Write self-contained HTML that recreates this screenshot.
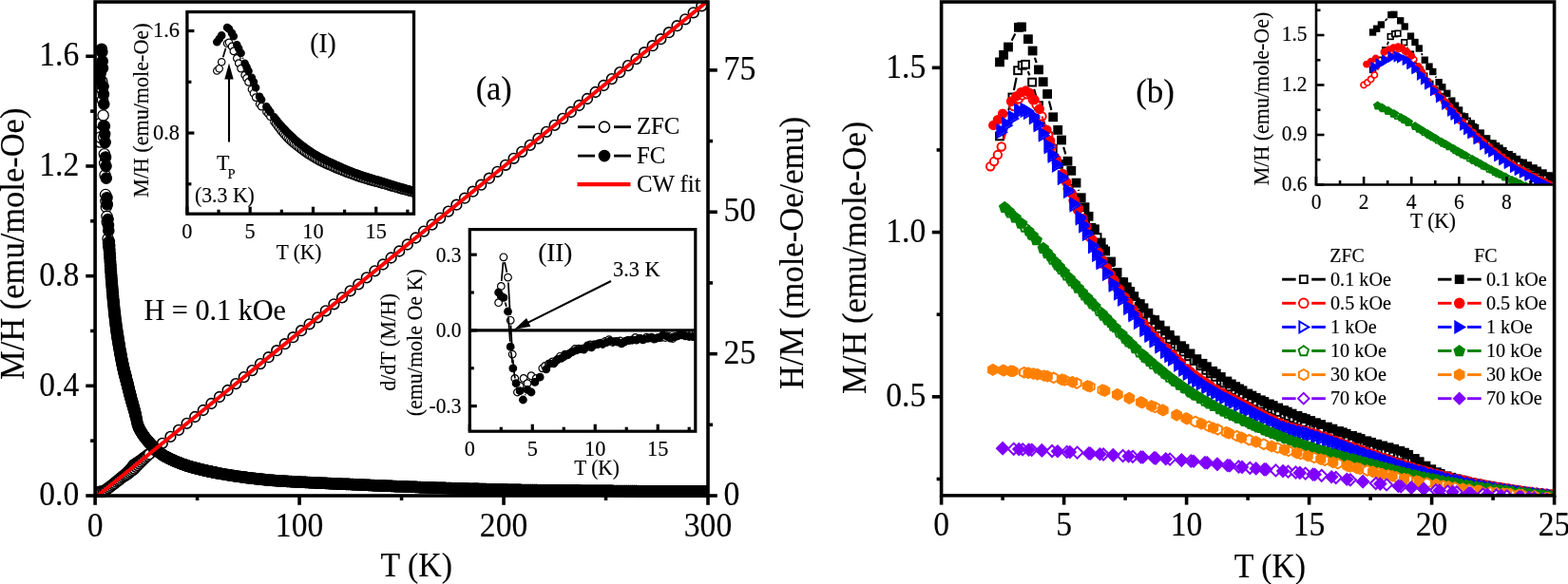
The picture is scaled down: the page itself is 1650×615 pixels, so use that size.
<!DOCTYPE html>
<html lang="en"><head><meta charset="utf-8"><title>M/H vs T</title>
<style>html,body{margin:0;padding:0;background:#fff;overflow:hidden}svg{display:block}</style>
</head><body>
<svg width="1650" height="615" viewBox="0 0 1650 615" font-family="'Liberation Serif', 'Times New Roman', Times, serif" fill="#000"><style>text{stroke:#000;stroke-width:0.15px}</style>
<rect x="0" y="0" width="1650" height="615" fill="#fff" stroke="none" stroke-width="0"/>
<defs><marker id="m0" markerUnits="userSpaceOnUse" markerWidth="30" markerHeight="30" refX="0" refY="0" orient="0" overflow="visible" viewBox="0 0 30 30"><circle cx="0" cy="0" r="5.35" fill="#fff" stroke="#000" stroke-width="1.6"/></marker><marker id="m1" markerUnits="userSpaceOnUse" markerWidth="30" markerHeight="30" refX="0" refY="0" orient="0" overflow="visible" viewBox="0 0 30 30"><circle cx="0" cy="0" r="5.65" fill="#fff" stroke="#000" stroke-width="1.3"/></marker><marker id="m2" markerUnits="userSpaceOnUse" markerWidth="30" markerHeight="30" refX="0" refY="0" orient="0" overflow="visible" viewBox="0 0 30 30"><circle cx="0" cy="0" r="5.65" fill="#000" stroke="#000" stroke-width="1.3"/></marker><marker id="m3" markerUnits="userSpaceOnUse" markerWidth="30" markerHeight="30" refX="0" refY="0" orient="0" overflow="visible" viewBox="0 0 30 30"><circle cx="0" cy="0" r="3.7" fill="#fff" stroke="#000" stroke-width="1.2"/></marker><marker id="m4" markerUnits="userSpaceOnUse" markerWidth="30" markerHeight="30" refX="0" refY="0" orient="0" overflow="visible" viewBox="0 0 30 30"><circle cx="0" cy="0" r="3.7" fill="#000" stroke="#000" stroke-width="1.2"/></marker><marker id="m5" markerUnits="userSpaceOnUse" markerWidth="30" markerHeight="30" refX="0" refY="0" orient="0" overflow="visible" viewBox="0 0 30 30"><circle cx="0" cy="0" r="3.8" fill="#fff" stroke="#000" stroke-width="1.2"/></marker><marker id="m6" markerUnits="userSpaceOnUse" markerWidth="30" markerHeight="30" refX="0" refY="0" orient="0" overflow="visible" viewBox="0 0 30 30"><circle cx="0" cy="0" r="3.8" fill="#000" stroke="#000" stroke-width="1.2"/></marker><marker id="m7" markerUnits="userSpaceOnUse" markerWidth="30" markerHeight="30" refX="0" refY="0" orient="0" overflow="visible" viewBox="0 0 30 30"><rect x="-3.9" y="-3.9" width="7.8" height="7.8" fill="#fff" stroke="#000" stroke-width="2"/></marker><marker id="m8" markerUnits="userSpaceOnUse" markerWidth="30" markerHeight="30" refX="0" refY="0" orient="0" overflow="visible" viewBox="0 0 30 30"><rect x="-4.15" y="-4.15" width="8.3" height="8.3" fill="#000" stroke="#000" stroke-width="1.5"/></marker><marker id="m9" markerUnits="userSpaceOnUse" markerWidth="30" markerHeight="30" refX="0" refY="0" orient="0" overflow="visible" viewBox="0 0 30 30"><circle cx="0" cy="0" r="4.25" fill="#fff" stroke="#f00" stroke-width="2"/></marker><marker id="m10" markerUnits="userSpaceOnUse" markerWidth="30" markerHeight="30" refX="0" refY="0" orient="0" overflow="visible" viewBox="0 0 30 30"><circle cx="0" cy="0" r="4.5" fill="#f00" stroke="#f00" stroke-width="1.5"/></marker><marker id="m11" markerUnits="userSpaceOnUse" markerWidth="30" markerHeight="30" refX="0" refY="0" orient="0" overflow="visible" viewBox="0 0 30 30"><polygon points="-4.25,-5.6 5.25,0 -4.25,5.6" fill="#fff" stroke="#00f" stroke-width="2" stroke-linejoin="miter"/></marker><marker id="m12" markerUnits="userSpaceOnUse" markerWidth="30" markerHeight="30" refX="0" refY="0" orient="0" overflow="visible" viewBox="0 0 30 30"><polygon points="-4.46,-5.88 5.51,0 -4.46,5.88" fill="#00f" stroke="#00f" stroke-width="1.5" stroke-linejoin="miter"/></marker><marker id="m13" markerUnits="userSpaceOnUse" markerWidth="30" markerHeight="30" refX="0" refY="0" orient="0" overflow="visible" viewBox="0 0 30 30"><polygon points="0,-4.9 4.89,-1.34 3.02,4.41 -3.02,4.41 -4.89,-1.34" fill="#fff" stroke="#008000" stroke-width="2" stroke-linejoin="miter"/></marker><marker id="m14" markerUnits="userSpaceOnUse" markerWidth="30" markerHeight="30" refX="0" refY="0" orient="0" overflow="visible" viewBox="0 0 30 30"><polygon points="0,-5.15 5.14,-1.41 3.18,4.63 -3.18,4.63 -5.14,-1.41" fill="#008000" stroke="#008000" stroke-width="1.5" stroke-linejoin="miter"/></marker><marker id="m15" markerUnits="userSpaceOnUse" markerWidth="30" markerHeight="30" refX="0" refY="0" orient="0" overflow="visible" viewBox="0 0 30 30"><polygon points="4.58,2.64 0,5.29 -4.58,2.65 -4.58,-2.64 0,-5.29 4.58,-2.64" fill="#fff" stroke="#ff8000" stroke-width="2" stroke-linejoin="miter"/></marker><marker id="m16" markerUnits="userSpaceOnUse" markerWidth="30" markerHeight="30" refX="0" refY="0" orient="0" overflow="visible" viewBox="0 0 30 30"><polygon points="4.83,2.79 0,5.58 -4.83,2.79 -4.83,-2.79 0,-5.58 4.83,-2.79" fill="#ff8000" stroke="#ff8000" stroke-width="1.5" stroke-linejoin="miter"/></marker><marker id="m17" markerUnits="userSpaceOnUse" markerWidth="30" markerHeight="30" refX="0" refY="0" orient="0" overflow="visible" viewBox="0 0 30 30"><polygon points="0,-6 6,0 0,6 -6,0" fill="#fff" stroke="#8000ff" stroke-width="2" stroke-linejoin="miter"/></marker><marker id="m18" markerUnits="userSpaceOnUse" markerWidth="30" markerHeight="30" refX="0" refY="0" orient="0" overflow="visible" viewBox="0 0 30 30"><polygon points="0,-6.25 6.25,0 0,6.25 -6.25,0" fill="#8000ff" stroke="#8000ff" stroke-width="1.5" stroke-linejoin="miter"/></marker><marker id="m19" markerUnits="userSpaceOnUse" markerWidth="30" markerHeight="30" refX="0" refY="0" orient="0" overflow="visible" viewBox="0 0 30 30"><rect x="-2.83" y="-2.83" width="5.65" height="5.65" fill="#fff" stroke="#000" stroke-width="1.7"/></marker><marker id="m20" markerUnits="userSpaceOnUse" markerWidth="30" markerHeight="30" refX="0" refY="0" orient="0" overflow="visible" viewBox="0 0 30 30"><rect x="-3.04" y="-3.04" width="6.08" height="6.08" fill="#000" stroke="#000" stroke-width="1.27"/></marker><marker id="m21" markerUnits="userSpaceOnUse" markerWidth="30" markerHeight="30" refX="0" refY="0" orient="0" overflow="visible" viewBox="0 0 30 30"><circle cx="0" cy="0" r="3.09" fill="#fff" stroke="#f00" stroke-width="1.7"/></marker><marker id="m22" markerUnits="userSpaceOnUse" markerWidth="30" markerHeight="30" refX="0" refY="0" orient="0" overflow="visible" viewBox="0 0 30 30"><circle cx="0" cy="0" r="3.3" fill="#f00" stroke="#f00" stroke-width="1.27"/></marker><marker id="m23" markerUnits="userSpaceOnUse" markerWidth="30" markerHeight="30" refX="0" refY="0" orient="0" overflow="visible" viewBox="0 0 30 30"><polygon points="-3.1,-4.09 3.83,0 -3.1,4.09" fill="#fff" stroke="#00f" stroke-width="1.7" stroke-linejoin="miter"/></marker><marker id="m24" markerUnits="userSpaceOnUse" markerWidth="30" markerHeight="30" refX="0" refY="0" orient="0" overflow="visible" viewBox="0 0 30 30"><polygon points="-3.28,-4.33 4.06,0 -3.28,4.33" fill="#00f" stroke="#00f" stroke-width="1.27" stroke-linejoin="miter"/></marker><marker id="m25" markerUnits="userSpaceOnUse" markerWidth="30" markerHeight="30" refX="0" refY="0" orient="0" overflow="visible" viewBox="0 0 30 30"><polygon points="0,-3.58 3.57,-0.98 2.21,3.22 -2.21,3.22 -3.57,-0.98" fill="#fff" stroke="#008000" stroke-width="1.7" stroke-linejoin="miter"/></marker><marker id="m26" markerUnits="userSpaceOnUse" markerWidth="30" markerHeight="30" refX="0" refY="0" orient="0" overflow="visible" viewBox="0 0 30 30"><polygon points="0,-3.79 3.78,-1.04 2.34,3.41 -2.34,3.41 -3.78,-1.04" fill="#008000" stroke="#008000" stroke-width="1.27" stroke-linejoin="miter"/></marker></defs>
<clipPath id="ca"><rect x="100.1" y="2" width="644.9" height="522"/></clipPath>
<g clip-path="url(#ca)">
<polyline points="104.4,517.8 105.5,517.7 106.5,517.7 107.6,517.6 108.7,517.6 109.8,516.8 110.8,516.0 111.9,515.2 113.0,514.5 114.1,513.7 115.1,512.9 116.2,512.1 117.3,511.3 118.4,510.4 119.4,509.5 120.5,508.7 121.6,507.8 122.7,506.9 123.7,506.0 124.8,505.1 125.9,504.2 127.0,503.4 128.0,502.5 129.1,501.6 130.2,500.7 131.3,499.8 132.3,498.9 133.4,498.0 134.5,497.2 135.6,495.9 136.6,494.6 137.7,493.3 138.8,492.0 139.9,490.7 140.9,489.4 142.0,488.7 143.1,488.0 144.2,487.3 145.2,486.5 146.3,485.8 147.4,485.1 148.5,484.3 149.5,483.5 150.6,482.7 151.7,481.9 152.8,481.1 153.8,480.3 154.9,479.5 156.0,478.7 157.1,477.9 158.1,477.1" fill="none" stroke="none" marker-start="url(#m0)" marker-mid="url(#m0)" marker-end="url(#m0)"/>
<polyline points="105.3,518.0 107.0,518.0 108.7,518.0 110.4,517.0 112.1,515.7 113.9,514.3 115.6,513.0 117.3,511.7 119.0,510.4 120.7,509.1 122.5,507.7 124.2,506.4 125.9,505.1 127.6,503.7 129.3,502.5 131.1,501.4 132.8,500.3 134.5,499.2 136.2,497.8 137.9,496.5 139.7,495.2 141.4,493.8 143.1,491.9 144.8,490.1 146.5,488.3 148.3,486.6 150.0,485.0 151.7,483.4 153.4,481.7 155.1,480.1 156.9,478.5" fill="none" stroke="none" marker-start="url(#m0)" marker-mid="url(#m0)" marker-end="url(#m0)"/>
<polyline points="162.2,473.9 170.8,466.9 179.4,459.9 188.0,452.9 196.6,445.9 205.2,439.0 213.8,432.0 222.4,425.0 231.0,418.0 239.6,411.0 248.2,404.1 256.8,397.1 265.4,390.1 274.0,383.1 282.6,376.2 291.2,369.2 299.8,362.2 308.4,355.2 317.0,348.2 325.6,341.3 334.2,334.3 342.8,327.3 351.4,320.3 360.0,313.4 368.6,306.4 377.2,299.4 385.8,292.4 394.4,285.4 403.0,278.5 411.6,271.5 420.2,264.5 428.8,257.5 437.4,250.5 446.0,243.6 454.6,236.6 463.2,229.6 471.8,222.6 480.4,215.7 489.0,208.7 497.6,201.7 506.2,194.7 514.8,187.7 523.4,180.8 532.0,173.8 540.6,166.8 549.2,159.8 557.8,152.9 566.4,145.9 575.0,138.9 583.6,131.9 592.2,124.9 600.8,118.0 609.4,111.0 618.0,104.0 626.6,97.0 635.2,90.0 643.8,83.1 652.3,76.1 660.9,69.1 669.5,62.1 678.1,55.2 686.7,48.2 695.3,41.2 703.9,34.2 712.5,27.2 721.1,20.3 729.7,13.3 738.3,6.3" fill="none" stroke="none" marker-start="url(#m0)" marker-mid="url(#m0)" marker-end="url(#m0)"/>
<polyline points="105.2,149.5 105.6,144.6 106.0,129.8 106.9,87.9 107.3,85.8 107.7,94.4 108.0,105.3 108.6,121.5 108.9,132.6 109.3,144.4 109.9,162.3 110.2,171.9 110.6,184.4 111.1,205.1 111.5,212.0 111.8,218.1 112.5,227.9 112.8,234.0 113.6,251.4 114.0,255.7 114.3,260.0 114.9,263.4 115.2,267.4 115.4,271.5 115.7,275.5 116.0,279.5 116.2,283.4 116.5,287.1 116.7,290.6 117.0,294.0 117.3,297.2 117.5,300.4 117.8,303.5 118.0,306.5 118.3,309.5 118.5,312.3 118.8,315.1 119.1,317.9 119.3,320.5 119.6,323.1 119.8,325.6 120.1,328.1 120.3,330.5 120.6,332.9 120.9,335.2 121.1,337.5 121.4,339.7 121.6,341.8 121.9,343.8 122.2,345.8 122.4,347.7 122.7,349.5 122.9,351.3 123.2,353.0 123.4,354.7 123.7,356.3 124.0,357.9 124.2,359.5 124.5,361.1 124.7,362.6 125.0,364.1 125.3,365.6 125.5,367.1 125.8,368.6 126.0,370.1 126.3,371.5 126.5,372.9 126.8,374.3 127.1,375.7 127.3,377.1 127.6,378.4 127.8,379.7 128.1,381.0 128.3,382.3 128.6,383.5 128.9,384.8 129.1,386.0 129.4,387.2 129.6,388.4 129.9,389.6 130.2,390.7 130.4,391.8 130.7,392.9 130.9,394.0 131.2,395.0 131.4,396.0 131.7,397.0 132.0,397.9 132.2,398.9 132.5,399.8 132.7,400.8 133.0,401.8 133.2,402.8 133.5,403.8 133.8,404.8 134.0,405.8 134.3,406.9 134.5,407.9 134.8,408.9 135.1,410.0 135.3,411.0 135.6,412.0 135.8,413.1 136.1,414.0 136.3,415.0 136.6,416.0 136.9,416.9 137.1,417.9 137.4,418.8 137.6,419.7 137.9,420.6 138.1,421.6 138.4,422.5 138.7,423.4 138.9,424.3 139.2,425.2 139.4,426.1 139.7,426.9 140.0,427.8 140.2,428.7 140.5,429.5 140.7,430.4 141.0,431.3 141.2,432.2 141.5,433.1 141.8,434.0 142.0,435.0 142.3,436.0 142.5,437.0 142.8,438.2 143.1,439.4 143.1,439.6 144.0,443.7 144.8,447.1 145.7,449.4 146.5,451.4 147.4,453.0 148.3,454.5 149.1,455.9 150.0,457.2 150.8,458.5 151.7,459.7 152.6,460.9 153.4,462.0 154.3,463.1 155.1,464.1 156.0,465.1 156.9,466.0 157.7,466.9 158.6,467.9 159.4,468.8 160.3,469.7 161.2,470.5 162.0,471.4 162.9,472.3 163.7,473.1 164.6,473.9 165.4,474.7 166.3,475.4 167.2,476.1 168.0,476.8 168.9,477.4 169.7,478.0 170.6,478.6 171.5,479.2 172.3,479.7 173.2,480.2 174.0,480.7 174.9,481.1 175.8,481.6 176.6,482.0 177.5,482.5 178.3,482.9 179.2,483.3 180.1,483.7 180.9,484.1 181.8,484.5 182.6,484.9 183.5,485.3 184.4,485.7 185.2,486.0 186.1,486.4 186.9,486.7 187.8,487.1 188.7,487.4 189.5,487.8 190.4,488.1 191.2,488.4 192.1,488.7 193.0,489.0 193.8,489.3 194.7,489.6 195.5,489.9 196.4,490.2 197.3,490.5 198.1,490.7 199.0,491.0 199.8,491.2 200.7,491.5 201.6,491.7 202.4,492.0 203.3,492.2 204.1,492.5 205.0,492.7 205.9,492.9 206.7,493.2 207.6,493.4 208.4,493.6 209.3,493.8 210.2,494.0 211.0,494.3 211.9,494.5 212.7,494.7 213.6,494.9 214.5,495.1 215.3,495.3 216.2,495.5 217.0,495.7 217.9,495.9 218.8,496.1 219.6,496.2 220.5,496.4 221.3,496.6 222.2,496.8 223.1,497.0 223.9,497.1 224.8,497.3 225.6,497.5 226.5,497.7 227.4,497.8 228.2,498.0 229.1,498.2 231.2,498.6 233.4,499.0 235.5,499.3 237.7,499.7 239.8,500.1 242.0,500.4 244.1,500.8 246.3,501.1 248.4,501.4 250.6,501.7 252.7,502.0 254.9,502.3 257.0,502.6 259.2,502.9 261.3,503.2 263.5,503.4 265.6,503.7 267.8,503.9 269.9,504.2 272.1,504.4 274.2,504.6 276.4,504.9 278.5,505.1 280.7,505.3 282.8,505.5 285.0,505.7 287.1,505.9 289.3,506.0 291.4,506.2 293.6,506.3 295.7,506.5 297.9,506.6 300.0,506.7 302.2,506.9 304.3,507.0 306.5,507.1 308.6,507.2 310.8,507.4 312.9,507.5 315.1,507.6 317.2,507.7 319.4,507.8 321.5,507.9 323.7,508.0 325.8,508.1 328.0,508.2 330.1,508.3 332.3,508.4 334.4,508.5 336.6,508.6 338.7,508.7 340.9,508.8 343.0,508.9 345.2,509.0 347.3,509.1 349.5,509.2 351.6,509.3 353.8,509.4 355.9,509.5 358.1,509.6 360.2,509.7 362.4,509.8 364.5,509.9 366.7,509.9 368.8,510.0 371.0,510.1 373.1,510.2 375.3,510.3 377.4,510.4 379.6,510.5 381.7,510.6 383.9,510.7 386.0,510.8 388.2,510.9 390.3,511.0 392.5,511.1 394.6,511.2 396.8,511.3 398.9,511.4 401.1,511.5 403.2,511.5 405.4,511.6 407.5,511.7 409.7,511.8 411.8,511.9 414.0,512.0 416.1,512.1 418.3,512.2 420.4,512.2 422.5,512.3 424.7,512.4 426.8,512.5 429.0,512.6 431.1,512.7 433.3,512.8 435.4,512.8 437.6,512.9 439.7,513.0 441.9,513.1 444.0,513.2 446.2,513.2 448.3,513.3 450.5,513.4 452.6,513.5 454.8,513.5 456.9,513.6 459.1,513.7 461.2,513.7 463.4,513.8 465.5,513.9 467.7,513.9 469.8,514.0 472.0,514.1 474.1,514.1 476.3,514.2 478.4,514.3 480.6,514.3 482.7,514.4 484.9,514.4 487.0,514.5 489.2,514.6 491.3,514.6 493.5,514.7 495.6,514.7 497.8,514.8 499.9,514.9 502.1,514.9 504.2,515.0 506.4,515.0 508.5,515.1 510.7,515.1 512.8,515.2 515.0,515.2 517.1,515.3 519.3,515.3 521.4,515.4 523.6,515.5 525.7,515.5 527.9,515.5 530.0,515.6 532.2,515.6 534.3,515.7 536.5,515.7 538.6,515.8 540.8,515.8 542.9,515.8 545.1,515.9 547.2,515.9 549.4,516.0 551.5,516.0 553.7,516.0 555.8,516.0 558.0,516.1 560.1,516.1 562.3,516.1 564.4,516.1 566.6,516.2 568.7,516.2 570.9,516.2 573.0,516.2 575.2,516.3 577.3,516.3 579.5,516.3 581.6,516.3 583.8,516.4 585.9,516.4 588.1,516.4 590.2,516.4 592.4,516.5 594.5,516.5 596.7,516.5 598.8,516.5 601.0,516.5 603.1,516.6 605.3,516.6 607.4,516.6 609.6,516.6 611.7,516.7 613.9,516.7 616.0,516.7 618.2,516.7 620.3,516.7 622.5,516.8 624.6,516.8 626.8,516.8 628.9,516.8 631.1,516.8 633.2,516.9 635.4,516.9 637.5,516.9 639.7,516.9 641.8,516.9 644.0,516.9 646.1,517.0 648.3,517.0 650.4,517.0 652.6,517.0 654.7,517.0 656.9,517.0 659.0,517.1 661.2,517.1 663.3,517.1 665.5,517.1 667.6,517.1 669.8,517.1 671.9,517.2 674.1,517.2 676.2,517.2 678.4,517.2 680.5,517.2 682.7,517.2 684.8,517.2 687.0,517.2 689.1,517.3 691.3,517.3 693.4,517.3 695.6,517.3 697.7,517.3 699.9,517.3 702.0,517.3 704.2,517.3 706.3,517.3 708.5,517.3 710.6,517.3 712.8,517.3 714.9,517.4 717.1,517.4 719.2,517.4 721.4,517.4 723.5,517.4 725.7,517.4 727.8,517.4 730.0,517.4 732.1,517.4 734.3,517.4 736.4,517.4 738.6,517.4 740.7,517.4 742.9,517.4 745.0,517.4" fill="none" stroke="none" marker-start="url(#m1)" marker-mid="url(#m1)" marker-end="url(#m1)"/>
<polyline points="105.2,84.4 105.6,77.4 106.0,69.7 106.9,51.7 107.3,54.9 107.7,64.5 108.0,71.7 108.6,91.1 108.9,99.2 109.3,109.6 109.9,132.7 110.2,141.1 110.6,150.0 111.1,165.5 111.5,175.1 111.8,187.6 112.5,208.2 112.8,215.2 113.6,231.1 114.0,237.2 114.3,243.1 114.9,254.5 115.2,258.9 115.4,263.1 115.7,267.3 116.0,271.4 116.2,275.4 116.5,279.2 116.7,282.8 117.0,286.4 117.3,289.8 117.5,293.2 117.8,296.5 118.0,299.7 118.3,302.9 118.5,305.9 118.8,308.9 119.1,311.8 119.3,314.6 119.6,317.3 119.8,320.0 120.1,322.6 120.3,325.1 120.6,327.5 120.9,329.9 121.1,332.3 121.4,334.5 121.6,336.7 121.9,338.8 122.2,340.9 122.4,342.8 122.7,344.7 122.9,346.6 123.2,348.3 123.4,350.0 123.7,351.7 124.0,353.4 124.2,355.0 124.5,356.6 124.7,358.2 125.0,359.8 125.3,361.4 125.5,362.9 125.8,364.5 126.0,366.1 126.3,367.6 126.5,369.1 126.8,370.6 127.1,372.0 127.3,373.5 127.6,374.9 127.8,376.2 128.1,377.6 128.3,378.9 128.6,380.2 128.9,381.5 129.1,382.7 129.4,383.9 129.6,385.1 129.9,386.3 130.2,387.5 130.4,388.6 130.7,389.7 130.9,390.8 131.2,391.9 131.4,392.9 131.7,393.9 132.0,394.9 132.2,395.9 132.5,396.9 132.7,397.8 133.0,398.8 133.2,399.8 133.5,400.9 133.8,401.9 134.0,403.0 134.3,404.0 134.5,405.1 134.8,406.2 135.1,407.2 135.3,408.3 135.6,409.4 135.8,410.4 136.1,411.4 136.3,412.5 136.6,413.5 136.9,414.5 137.1,415.5 137.4,416.5 137.6,417.4 137.9,418.4 138.1,419.4 138.4,420.4 138.7,421.4 138.9,422.4 139.2,423.3 139.4,424.3 139.7,425.3 140.0,426.2 140.2,427.2 140.5,428.1 140.7,429.1 141.0,430.1 141.2,431.0 141.5,432.0 141.8,433.1 142.0,434.1 142.3,435.1 142.5,436.2 142.8,437.4 143.1,438.7 143.1,438.9 144.0,443.0 144.8,446.5 145.7,448.9 146.5,450.9 147.4,452.6 148.3,454.2 149.1,455.6 150.0,456.9 150.8,458.2 151.7,459.4 152.6,460.6 153.4,461.7 154.3,462.8 155.1,463.8 156.0,464.8 156.9,465.7 157.7,466.6 158.6,467.6 159.4,468.5 160.3,469.4 161.2,470.3 162.0,471.2 162.9,472.1 163.7,473.0 164.6,473.8 165.4,474.6 166.3,475.4 167.2,476.1 168.0,476.8 168.9,477.4 169.7,478.0 170.6,478.6 171.5,479.2 172.3,479.7 173.2,480.2 174.0,480.7 174.9,481.1 175.8,481.6 176.6,482.0 177.5,482.5 178.3,482.9 179.2,483.3 180.1,483.7 180.9,484.1 181.8,484.5 182.6,484.9 183.5,485.3 184.4,485.7 185.2,486.0 186.1,486.4 186.9,486.7 187.8,487.1 188.7,487.4 189.5,487.8 190.4,488.1 191.2,488.4 192.1,488.7 193.0,489.0 193.8,489.3 194.7,489.6 195.5,489.9 196.4,490.2 197.3,490.5 198.1,490.7 199.0,491.0 199.8,491.2 200.7,491.5 201.6,491.7 202.4,492.0 203.3,492.2 204.1,492.5 205.0,492.7 205.9,492.9 206.7,493.2 207.6,493.4 208.4,493.6 209.3,493.8 210.2,494.0 211.0,494.3 211.9,494.5 212.7,494.7 213.6,494.9 214.5,495.1 215.3,495.3 216.2,495.5 217.0,495.7 217.9,495.9 218.8,496.1 219.6,496.2 220.5,496.4 221.3,496.6 222.2,496.8 223.1,497.0 223.9,497.1 224.8,497.3 225.6,497.5 226.5,497.7 227.4,497.8 228.2,498.0 229.1,498.2 231.2,498.6 233.4,499.0 235.5,499.3 237.7,499.7 239.8,500.1 242.0,500.4 244.1,500.8 246.3,501.1 248.4,501.4 250.6,501.7 252.7,502.0 254.9,502.3 257.0,502.6 259.2,502.9 261.3,503.2 263.5,503.4 265.6,503.7 267.8,503.9 269.9,504.2 272.1,504.4 274.2,504.6 276.4,504.9 278.5,505.1 280.7,505.3 282.8,505.5 285.0,505.7 287.1,505.9 289.3,506.0 291.4,506.2 293.6,506.3 295.7,506.5 297.9,506.6 300.0,506.7 302.2,506.9 304.3,507.0 306.5,507.1 308.6,507.2 310.8,507.4 312.9,507.5 315.1,507.6 317.2,507.7 319.4,507.8 321.5,507.9 323.7,508.0 325.8,508.1 328.0,508.2 330.1,508.3 332.3,508.4 334.4,508.5 336.6,508.6 338.7,508.7 340.9,508.8 343.0,508.9 345.2,509.0 347.3,509.1 349.5,509.2 351.6,509.3 353.8,509.4 355.9,509.5 358.1,509.6 360.2,509.7 362.4,509.8 364.5,509.9 366.7,509.9 368.8,510.0 371.0,510.1 373.1,510.2 375.3,510.3 377.4,510.4 379.6,510.5 381.7,510.6 383.9,510.7 386.0,510.8 388.2,510.9 390.3,511.0 392.5,511.1 394.6,511.2 396.8,511.3 398.9,511.4 401.1,511.5 403.2,511.5 405.4,511.6 407.5,511.7 409.7,511.8 411.8,511.9 414.0,512.0 416.1,512.1 418.3,512.2 420.4,512.2 422.5,512.3 424.7,512.4 426.8,512.5 429.0,512.6 431.1,512.7 433.3,512.8 435.4,512.8 437.6,512.9 439.7,513.0 441.9,513.1 444.0,513.2 446.2,513.2 448.3,513.3 450.5,513.4 452.6,513.5 454.8,513.5 456.9,513.6 459.1,513.7 461.2,513.7 463.4,513.8 465.5,513.9 467.7,513.9 469.8,514.0 472.0,514.1 474.1,514.1 476.3,514.2 478.4,514.3 480.6,514.3 482.7,514.4 484.9,514.4 487.0,514.5 489.2,514.6 491.3,514.6 493.5,514.7 495.6,514.7 497.8,514.8 499.9,514.9 502.1,514.9 504.2,515.0 506.4,515.0 508.5,515.1 510.7,515.1 512.8,515.2 515.0,515.2 517.1,515.3 519.3,515.3 521.4,515.4 523.6,515.5 525.7,515.5 527.9,515.5 530.0,515.6 532.2,515.6 534.3,515.7 536.5,515.7 538.6,515.8 540.8,515.8 542.9,515.8 545.1,515.9 547.2,515.9 549.4,516.0 551.5,516.0 553.7,516.0 555.8,516.0 558.0,516.1 560.1,516.1 562.3,516.1 564.4,516.1 566.6,516.2 568.7,516.2 570.9,516.2 573.0,516.2 575.2,516.3 577.3,516.3 579.5,516.3 581.6,516.3 583.8,516.4 585.9,516.4 588.1,516.4 590.2,516.4 592.4,516.5 594.5,516.5 596.7,516.5 598.8,516.5 601.0,516.5 603.1,516.6 605.3,516.6 607.4,516.6 609.6,516.6 611.7,516.7 613.9,516.7 616.0,516.7 618.2,516.7 620.3,516.7 622.5,516.8 624.6,516.8 626.8,516.8 628.9,516.8 631.1,516.8 633.2,516.9 635.4,516.9 637.5,516.9 639.7,516.9 641.8,516.9 644.0,516.9 646.1,517.0 648.3,517.0 650.4,517.0 652.6,517.0 654.7,517.0 656.9,517.0 659.0,517.1 661.2,517.1 663.3,517.1 665.5,517.1 667.6,517.1 669.8,517.1 671.9,517.2 674.1,517.2 676.2,517.2 678.4,517.2 680.5,517.2 682.7,517.2 684.8,517.2 687.0,517.2 689.1,517.3 691.3,517.3 693.4,517.3 695.6,517.3 697.7,517.3 699.9,517.3 702.0,517.3 704.2,517.3 706.3,517.3 708.5,517.3 710.6,517.3 712.8,517.3 714.9,517.4 717.1,517.4 719.2,517.4 721.4,517.4 723.5,517.4 725.7,517.4 727.8,517.4 730.0,517.4 732.1,517.4 734.3,517.4 736.4,517.4 738.6,517.4 740.7,517.4 742.9,517.4 745.0,517.4" fill="none" stroke="none" marker-start="url(#m2)" marker-mid="url(#m2)" marker-end="url(#m2)"/>
</g>
<line x1="102.9" y1="522" x2="745" y2="0.9" stroke="#f00" stroke-width="4" />
<rect x="100.1" y="2" width="644.9" height="520" fill="none" stroke="#000" stroke-width="3.6"/>
<line x1="100.1" y1="522" x2="100.1" y2="531.8" stroke="#000" stroke-width="3.6" />
<line x1="207.58" y1="522" x2="207.58" y2="527" stroke="#000" stroke-width="3.6" />
<line x1="315.07" y1="522" x2="315.07" y2="531.8" stroke="#000" stroke-width="3.6" />
<line x1="422.55" y1="522" x2="422.55" y2="527" stroke="#000" stroke-width="3.6" />
<line x1="530.03" y1="522" x2="530.03" y2="531.8" stroke="#000" stroke-width="3.6" />
<line x1="637.52" y1="522" x2="637.52" y2="527" stroke="#000" stroke-width="3.6" />
<line x1="745" y1="522" x2="745" y2="531.8" stroke="#000" stroke-width="3.6" />
<text transform="translate(100.1 564.5) scale(1 1.035)" font-size="33.6" text-anchor="middle" >0</text>
<text transform="translate(315.07 564.5) scale(1 1.035)" font-size="33.6" text-anchor="middle" >100</text>
<text transform="translate(530.03 564.5) scale(1 1.035)" font-size="33.6" text-anchor="middle" >200</text>
<text transform="translate(745 564.5) scale(1 1.035)" font-size="33.6" text-anchor="middle" >300</text>
<line x1="100.1" y1="522" x2="90.3" y2="522" stroke="#000" stroke-width="3.6" />
<line x1="100.1" y1="464.16" x2="95.1" y2="464.16" stroke="#000" stroke-width="3.6" />
<line x1="100.1" y1="406.32" x2="90.3" y2="406.32" stroke="#000" stroke-width="3.6" />
<line x1="100.1" y1="348.47" x2="95.1" y2="348.47" stroke="#000" stroke-width="3.6" />
<line x1="100.1" y1="290.63" x2="90.3" y2="290.63" stroke="#000" stroke-width="3.6" />
<line x1="100.1" y1="232.79" x2="95.1" y2="232.79" stroke="#000" stroke-width="3.6" />
<line x1="100.1" y1="174.95" x2="90.3" y2="174.95" stroke="#000" stroke-width="3.6" />
<line x1="100.1" y1="117.11" x2="95.1" y2="117.11" stroke="#000" stroke-width="3.6" />
<line x1="100.1" y1="59.26" x2="90.3" y2="59.26" stroke="#000" stroke-width="3.6" />
<text transform="translate(83.3 532.2) scale(1 1.035)" font-size="33.6" text-anchor="end" >0.0</text>
<text transform="translate(83.3 416.52) scale(1 1.035)" font-size="33.6" text-anchor="end" >0.4</text>
<text transform="translate(83.3 300.83) scale(1 1.035)" font-size="33.6" text-anchor="end" >0.8</text>
<text transform="translate(83.3 185.15) scale(1 1.035)" font-size="33.6" text-anchor="end" >1.2</text>
<text transform="translate(83.3 69.46) scale(1 1.035)" font-size="33.6" text-anchor="end" >1.6</text>
<line x1="745" y1="522" x2="754.8" y2="522" stroke="#000" stroke-width="3.6" />
<line x1="745" y1="447.31" x2="750" y2="447.31" stroke="#000" stroke-width="3.6" />
<line x1="745" y1="372.63" x2="754.8" y2="372.63" stroke="#000" stroke-width="3.6" />
<line x1="745" y1="297.94" x2="750" y2="297.94" stroke="#000" stroke-width="3.6" />
<line x1="745" y1="223.25" x2="754.8" y2="223.25" stroke="#000" stroke-width="3.6" />
<line x1="745" y1="148.57" x2="750" y2="148.57" stroke="#000" stroke-width="3.6" />
<line x1="745" y1="73.88" x2="754.8" y2="73.88" stroke="#000" stroke-width="3.6" />
<text transform="translate(761.5 532.2) scale(1 1.035)" font-size="33.8" text-anchor="start" >0</text>
<text transform="translate(761.5 382.83) scale(1 1.035)" font-size="33.8" text-anchor="start" >25</text>
<text transform="translate(761.5 233.45) scale(1 1.035)" font-size="33.8" text-anchor="start" >50</text>
<text transform="translate(761.5 84.08) scale(1 1.035)" font-size="33.8" text-anchor="start" >75</text>
<text transform="translate(438.3 607) scale(1 1.035)" font-size="33.8" text-anchor="middle" >T (K)</text>
<text transform="translate(24.7 256.8) rotate(-90) scale(1 1.035)" font-size="34.5" text-anchor="middle" >M/H (emu/mole-Oe)</text>
<text transform="translate(844.8 266.4) rotate(-90) scale(1 1.035)" font-size="34.6" text-anchor="middle" >H/M (mole-Oe/emu)</text>
<text transform="translate(519.7 105) scale(1 1.035)" font-size="34.3" text-anchor="middle" >(a)</text>
<text transform="translate(151.5 337.2) scale(1 1.035)" font-size="30.2" text-anchor="start" >H = 0.1 kOe</text>
<line x1="608" y1="133.7" x2="626" y2="133.7" stroke="#000" stroke-width="2.8" />
<line x1="646" y1="133.7" x2="664" y2="133.7" stroke="#000" stroke-width="2.8" />
<circle cx="636" cy="133.7" r="5.55" fill="#fff" stroke="#000" stroke-width="1.6"/>
<line x1="608" y1="164.1" x2="626" y2="164.1" stroke="#000" stroke-width="2.8" />
<line x1="646" y1="164.1" x2="664" y2="164.1" stroke="#000" stroke-width="2.8" />
<circle cx="636" cy="164.1" r="5.55" fill="#000" stroke="#000" stroke-width="1.6"/>
<line x1="607.5" y1="194.1" x2="663.5" y2="194.1" stroke="#f00" stroke-width="4.1" />
<text transform="translate(669.9 141.4) scale(1 1.035)" font-size="24.8" text-anchor="start" >ZFC</text>
<text transform="translate(669.9 171.8) scale(1 1.035)" font-size="24.8" text-anchor="start" >FC</text>
<text transform="translate(669.9 201.8) scale(1 1.035)" font-size="24.8" text-anchor="start" >CW fit</text>
<rect x="196.9" y="12.5" width="238.6" height="212.7" fill="#fff" stroke="none" stroke-width="0"/>
<clipPath id="ci1"><rect x="196.9" y="12.5" width="238.6" height="212.7"/></clipPath>
<g clip-path="url(#ci1)">
<path d="M234.71 60.34L237.56 50.83" fill="none" stroke="#000" stroke-width="1.8"/>
<polyline points="228.3,74.5 230.7,72.2 233.2,65.3 239.1,45.8 241.0,44.8 244.0,48.9 245.8,53.9 249.3,61.4 251.2,66.6 253.5,72.1 257.6,79.0 259.5,82.4 261.5,86.4 264.9,94.0 266.9,98.2 269.1,102.6 273.1,109.5 275.1,112.1 280.4,117.7 282.4,120.0 284.4,122.7 288.4,128.2 290.0,130.3 291.5,132.4 293.1,134.5 294.7,136.6 296.3,138.7 297.9,140.6 299.5,142.5 301.1,144.3 302.7,146.0 304.3,147.5 305.9,149.0 307.5,150.4 309.0,151.7 310.6,153.0 312.2,154.3 313.8,155.5 315.4,156.8 317.0,157.9 318.6,159.1 320.2,160.2 321.8,161.4 323.4,162.4 324.9,163.5 326.5,164.5 328.1,165.5 329.7,166.5 331.3,167.4 332.9,168.3 334.5,169.2 336.1,170.1 337.7,170.9 339.3,171.6 340.9,172.4 342.4,173.1 344.0,173.9 345.6,174.6 347.2,175.3 348.8,176.0 350.4,176.7 352.0,177.4 353.6,178.1 355.2,178.7 356.8,179.4 358.4,180.0 359.9,180.7 361.5,181.3 363.1,181.9 364.7,182.6 366.3,183.2 367.9,183.7 369.5,184.3 371.1,184.9 372.7,185.5 374.3,186.0 375.9,186.6 377.4,187.1 379.0,187.7 380.6,188.2 382.2,188.7 383.8,189.2 385.4,189.7 387.0,190.2 388.6,190.6 390.2,191.1 391.8,191.5 393.3,192.0 394.9,192.4 396.5,192.8 398.1,193.2 399.7,193.7 401.3,194.1 402.9,194.6 404.5,195.0 406.1,195.5 407.7,196.0 409.3,196.4 410.8,196.9 412.4,197.4 414.0,197.8 415.6,198.3 417.2,198.7 418.8,199.2 420.4,199.6 422.0,200.1 423.6,200.5 425.2,200.9 426.8,201.3 428.3,201.7 429.9,202.1 431.5,202.6 433.1,203.0 434.7,203.4 436.3,203.8 437.9,204.2" fill="none" stroke="none" marker-start="url(#m3)" marker-mid="url(#m3)" marker-end="url(#m3)"/>
<path d="M255.36 60.77L255.75 61.81" fill="none" stroke="#000" stroke-width="1.8"/>
<polyline points="228.3,44.2 230.7,41.0 233.2,37.4 239.1,29.0 241.0,30.5 244.0,34.9 245.8,38.3 249.3,47.3 251.2,51.1 253.5,55.9 257.6,66.7 259.5,70.6 261.5,74.7 264.9,81.9 266.9,86.3 269.1,92.2 273.1,101.8 275.1,105.0 280.4,112.4 282.4,115.2 284.4,118.0 288.4,123.3 290.0,125.3 291.5,127.3 293.1,129.2 294.7,131.1 296.3,133.0 297.9,134.7 299.5,136.4 301.1,138.1 302.7,139.7 304.3,141.2 305.9,142.8 307.5,144.3 309.0,145.7 310.6,147.2 312.2,148.6 313.8,149.9 315.4,151.2 317.0,152.5 318.6,153.7 320.2,154.9 321.8,156.1 323.4,157.2 324.9,158.3 326.5,159.4 328.1,160.5 329.7,161.5 331.3,162.5 332.9,163.4 334.5,164.3 336.1,165.2 337.7,166.0 339.3,166.9 340.9,167.7 342.4,168.4 344.0,169.2 345.6,170.0 347.2,170.7 348.8,171.4 350.4,172.2 352.0,172.9 353.6,173.7 355.2,174.4 356.8,175.1 358.4,175.8 359.9,176.5 361.5,177.2 363.1,177.9 364.7,178.6 366.3,179.2 367.9,179.8 369.5,180.5 371.1,181.1 372.7,181.7 374.3,182.3 375.9,182.8 377.4,183.4 379.0,184.0 380.6,184.5 382.2,185.1 383.8,185.6 385.4,186.1 387.0,186.6 388.6,187.1 390.2,187.6 391.8,188.0 393.3,188.5 394.9,189.0 396.5,189.4 398.1,189.9 399.7,190.3 401.3,190.8 402.9,191.3 404.5,191.8 406.1,192.3 407.7,192.8 409.3,193.3 410.8,193.7 412.4,194.2 414.0,194.7 415.6,195.2 417.2,195.7 418.8,196.2 420.4,196.7 422.0,197.1 423.6,197.6 425.2,198.1 426.8,198.5 428.3,199.0 429.9,199.4 431.5,199.9 433.1,200.4 434.7,200.8 436.3,201.3 437.9,201.7" fill="none" stroke="none" marker-start="url(#m4)" marker-mid="url(#m4)" marker-end="url(#m4)"/>
</g>
<rect x="196.9" y="12.5" width="238.6" height="212.7" fill="none" stroke="#000" stroke-width="3.3"/>
<line x1="196.9" y1="225.2" x2="196.9" y2="217.7" stroke="#000" stroke-width="3.2" />
<line x1="230.04" y1="225.2" x2="230.04" y2="220.7" stroke="#000" stroke-width="3.2" />
<line x1="263.18" y1="225.2" x2="263.18" y2="217.7" stroke="#000" stroke-width="3.2" />
<line x1="296.32" y1="225.2" x2="296.32" y2="220.7" stroke="#000" stroke-width="3.2" />
<line x1="329.46" y1="225.2" x2="329.46" y2="217.7" stroke="#000" stroke-width="3.2" />
<line x1="362.59" y1="225.2" x2="362.59" y2="220.7" stroke="#000" stroke-width="3.2" />
<line x1="395.73" y1="225.2" x2="395.73" y2="217.7" stroke="#000" stroke-width="3.2" />
<line x1="428.87" y1="225.2" x2="428.87" y2="220.7" stroke="#000" stroke-width="3.2" />
<text transform="translate(196.9 250.8) scale(1 1.035)" font-size="22.3" text-anchor="middle" >0</text>
<text transform="translate(263.18 250.8) scale(1 1.035)" font-size="22.3" text-anchor="middle" >5</text>
<text transform="translate(329.46 250.8) scale(1 1.035)" font-size="22.3" text-anchor="middle" >10</text>
<text transform="translate(395.73 250.8) scale(1 1.035)" font-size="22.3" text-anchor="middle" >15</text>
<line x1="196.9" y1="193.82" x2="201.4" y2="193.82" stroke="#000" stroke-width="3.2" />
<line x1="196.9" y1="140.05" x2="204.4" y2="140.05" stroke="#000" stroke-width="3.2" />
<line x1="196.9" y1="86.29" x2="201.4" y2="86.29" stroke="#000" stroke-width="3.2" />
<line x1="196.9" y1="32.53" x2="204.4" y2="32.53" stroke="#000" stroke-width="3.2" />
<text transform="translate(189 146.75) scale(1 1.035)" font-size="22.5" text-anchor="end" >0.8</text>
<text transform="translate(189 39.23) scale(1 1.035)" font-size="22.5" text-anchor="end" >1.6</text>
<text transform="translate(314.5 272.8) scale(1 1.035)" font-size="21.4" text-anchor="middle" >T (K)</text>
<text transform="translate(155.9 116.2) rotate(-90) scale(1 1.035)" font-size="22.1" text-anchor="middle" >M/H (emu/mole-Oe)</text>
<text transform="translate(340 55) scale(1 1.035)" font-size="27.5" text-anchor="middle" >(I)</text>
<line x1="241" y1="149.5" x2="241" y2="80" stroke="#000" stroke-width="2.1" />
<polygon points="241,66.6 236.3,83.6 245.7,83.6" fill="#000"/>
<text transform="translate(228 179.4) scale(1 1.035)" font-size="22">T<tspan font-size="14.6" dx="-2" dy="8">P</tspan></text>
<text transform="translate(236.4 212.7) scale(1 1.035)" font-size="21.8" text-anchor="middle" >(3.3 K)</text>
<rect x="494.3" y="241.6" width="237.5" height="212.6" fill="#fff" stroke="none" stroke-width="0"/>
<clipPath id="ci2"><rect x="494.3" y="241.6" width="237.5" height="212.6"/></clipPath>
<g clip-path="url(#ci2)">
<path d="M525.46 313.33L526.47 306.73M527.75 296.01L529.46 276.21M531.07 276.11L533.4 286.82M534.86 297.48L536.87 331.88M537.48 342.66L538.86 367.75M539.72 378.52L541.24 393.02M542.76 403.71L543.48 407.69" fill="none" stroke="#000" stroke-width="1.8"/>
<polyline points="524.6,318.7 527.3,301.4 529.9,270.8 534.5,292.1 537.2,337.3 539.2,373.1 541.8,398.4 544.4,413.0 547.1,406.4 551.0,398.4 555.0,403.7 559.0,395.7 564.2,398.4 570.8,387.8 573.5,385.4 577.4,383.1 581.4,380.9 585.3,379.9 589.3,375.3 593.3,375.6 597.2,373.9 601.2,371.0 605.1,367.4 609.1,367.1 613.0,367.1 617.0,365.6 621.0,363.0 624.9,362.9 628.9,362.6 632.8,361.2 636.8,359.5 640.8,357.6 644.7,360.5 648.7,359.3 652.6,359.0 656.6,360.3 660.5,358.3 664.5,358.1 668.5,355.5 672.4,356.5 676.4,357.8 680.3,355.1 684.3,355.9 688.3,357.1 692.2,355.6 696.2,355.4 700.1,355.5 704.1,354.3 708.0,356.5 712.0,354.2 716.0,352.7 719.9,352.7 723.9,352.3 727.8,352.1 731.8,351.6" fill="none" stroke="none" marker-start="url(#m5)" marker-mid="url(#m5)" marker-end="url(#m5)"/>
<path d="M531.55 318.5L532.92 322.82M534.93 333.36L536.8 359.79M537.81 370.54L539.19 382.4M540.91 393.05L542.03 398.42M552.53 416.03L552.84 415.3" fill="none" stroke="#000" stroke-width="1.8"/>
<polyline points="524.6,308.0 527.3,312.0 529.9,313.4 534.5,328.0 537.2,365.2 539.8,387.8 543.1,403.7 547.1,411.7 550.4,421.0 555.0,410.4 559.0,413.0 562.9,402.4 568.2,397.1 574.8,388.8 578.7,382.9 582.7,382.9 586.7,378.4 590.6,377.3 594.6,373.2 598.5,372.6 602.5,370.5 606.5,368.8 610.4,367.7 614.4,368.1 618.3,363.9 622.3,365.8 626.2,363.0 630.2,361.7 634.2,362.5 638.1,360.7 642.1,359.0 646.0,359.7 650.0,360.1 654.0,361.8 657.9,359.3 661.9,358.5 665.8,358.0 669.8,358.1 673.7,356.4 677.7,357.1 681.7,356.3 685.6,355.2 689.6,356.6 693.5,355.7 697.5,352.9 701.5,354.0 705.4,356.1 709.4,354.6 713.3,353.7 717.3,352.9 721.2,353.9 725.2,354.5 729.2,354.6 733.1,353.0" fill="none" stroke="none" marker-start="url(#m6)" marker-mid="url(#m6)" marker-end="url(#m6)"/>
</g>
<line x1="494.3" y1="347.9" x2="731.8" y2="347.9" stroke="#000" stroke-width="3.2" />
<rect x="494.3" y="241.6" width="237.5" height="212.6" fill="none" stroke="#000" stroke-width="3.2"/>
<line x1="494.3" y1="454.2" x2="494.3" y2="446.7" stroke="#000" stroke-width="3.2" />
<line x1="527.29" y1="454.2" x2="527.29" y2="449.7" stroke="#000" stroke-width="3.2" />
<line x1="560.27" y1="454.2" x2="560.27" y2="446.7" stroke="#000" stroke-width="3.2" />
<line x1="593.26" y1="454.2" x2="593.26" y2="449.7" stroke="#000" stroke-width="3.2" />
<line x1="626.24" y1="454.2" x2="626.24" y2="446.7" stroke="#000" stroke-width="3.2" />
<line x1="659.23" y1="454.2" x2="659.23" y2="449.7" stroke="#000" stroke-width="3.2" />
<line x1="692.22" y1="454.2" x2="692.22" y2="446.7" stroke="#000" stroke-width="3.2" />
<line x1="725.2" y1="454.2" x2="725.2" y2="449.7" stroke="#000" stroke-width="3.2" />
<text transform="translate(494.3 479.5) scale(1 1.035)" font-size="22.3" text-anchor="middle" >0</text>
<text transform="translate(560.27 479.5) scale(1 1.035)" font-size="22.3" text-anchor="middle" >5</text>
<text transform="translate(626.24 479.5) scale(1 1.035)" font-size="22.3" text-anchor="middle" >10</text>
<text transform="translate(692.22 479.5) scale(1 1.035)" font-size="22.3" text-anchor="middle" >15</text>
<line x1="494.3" y1="427.62" x2="501.8" y2="427.62" stroke="#000" stroke-width="3.2" />
<line x1="494.3" y1="387.76" x2="498.8" y2="387.76" stroke="#000" stroke-width="3.2" />
<line x1="494.3" y1="347.9" x2="501.8" y2="347.9" stroke="#000" stroke-width="3.2" />
<line x1="494.3" y1="308.04" x2="498.8" y2="308.04" stroke="#000" stroke-width="3.2" />
<line x1="494.3" y1="268.18" x2="501.8" y2="268.18" stroke="#000" stroke-width="3.2" />
<text transform="translate(485.4 275.57) scale(1 1.035)" font-size="21.4" text-anchor="end" >0.3</text>
<text transform="translate(485.4 355.3) scale(1 1.035)" font-size="21.4" text-anchor="end" >0.0</text>
<text transform="translate(485.4 435.02) scale(1 1.035)" font-size="21.4" text-anchor="end" >-0.3</text>
<text transform="translate(628 500.3) scale(1 1.035)" font-size="21.3" text-anchor="middle" >T (K)</text>
<text transform="translate(443.6 360.8) rotate(-90) scale(1 1.035)" font-size="22" text-anchor="middle" >(emu/mole Oe K)</text>
<text transform="translate(416 360.4) rotate(-90) scale(1 1.035)" font-size="22" text-anchor="middle" >d/dT (M/H)</text>
<text transform="translate(584.3 274.8) scale(1 1.035)" font-size="27.2" text-anchor="middle" >(II)</text>
<text transform="translate(645 290.6) scale(1 1.035)" font-size="22.3" text-anchor="start" >3.3 K</text>
<line x1="643" y1="296" x2="551.73" y2="341.63" stroke="#000" stroke-width="2.1" />
<polygon points="541,347 554.06,335.1 558.35,343.69" fill="#000"/>
<clipPath id="cb"><rect x="990.6" y="2" width="645" height="519.8"/></clipPath>
<g clip-path="url(#cb)">
<path d="M1054.51 136.16L1056.47 130.51M1061.23 115.99L1063.16 109.8M1066.92 95L1069.59 81.68M1081.76 75.01L1083.39 79.39M1088.14 93.91L1090.94 103.8M1095.29 118.46L1100.79 136.24M1110.52 163.83L1111.26 165.76" fill="none" stroke="#000" stroke-width="2.2"/>
<polyline points="1052.0,143.4 1059.0,123.3 1065.4,102.5 1071.1,74.2 1075.7,68.8 1079.1,67.8 1086.1,86.6 1093.0,111.2 1103.0,143.5 1107.8,156.7 1114.0,172.9 1119.3,186.0 1124.7,198.8 1131.4,213.0 1135.0,219.4 1138.6,225.3 1142.1,230.5 1148.4,239.9 1154.6,250.1 1161.1,262.4 1168.0,276.2 1174.2,288.2 1179.2,296.9 1185.4,305.9 1189.2,311.0 1194.9,318.3 1198.7,322.9 1205.5,330.7 1210.7,336.4 1215.6,341.5 1219.9,346.0 1226.1,352.3 1231.1,357.2 1236.5,362.3 1239.9,365.5 1245.5,370.5 1251.0,375.3 1256.6,380.0 1263.4,385.3 1269.2,389.8 1273.8,393.3 1278.8,396.9 1284.7,401.1 1288.2,403.5 1294.0,407.4 1299.8,411.0 1303.9,413.4 1307.7,415.6 1312.2,418.1 1316.9,420.5 1322.3,423.2 1327.2,425.6 1334.1,428.8 1337.9,430.5 1342.0,432.3 1345.9,434.0 1351.6,436.4 1355.9,438.2 1360.9,440.3 1365.2,441.9 1369.1,443.4 1372.8,444.9 1378.6,447.0 1382.4,448.4 1386.5,449.9 1391.2,451.6 1397.5,453.9 1401.2,455.3 1407.6,457.6 1411.3,458.9 1418.2,461.4 1423.2,463.2 1430.1,465.6 1435.6,467.5 1441.6,469.5 1445.1,470.7 1449.5,472.0 1453.3,473.1 1457.7,474.3 1461.5,475.3 1466.0,476.6 1470.9,478.1 1474.5,479.4 1480.3,481.9 1485.7,485.2 1490.0,488.0 1495.3,491.4 1499.0,493.8 1504.4,497.2 1511.1,500.9 1515.6,503.0 1521.4,505.1 1525.2,506.3 1531.1,508.0 1535.5,509.1 1539.6,510.1 1545.0,511.4 1548.5,512.2 1554.8,513.5 1558.2,514.2 1564.0,515.3 1568.3,516.0 1574.3,517.1 1581.1,518.3 1585.4,519.0 1590.8,519.9 1596.3,520.7 1601.7,521.6 1605.9,522.1 1612.7,523.0 1617.7,523.7 1624.1,524.4 1630.0,525.0" fill="none" stroke="none" marker-start="url(#m7)" marker-mid="url(#m7)" marker-end="url(#m7)"/>
<path d="M1064.59 42.71L1068.32 35.61M1088.93 60.76L1090.67 66.11M1103.95 106.44L1106.36 115.88M1119.15 154.88L1121.34 162.38M1134.9 199.85L1135.26 200.93" fill="none" stroke="#000" stroke-width="2.2"/>
<polyline points="1052.0,65.4 1056.1,57.8 1061.0,49.5 1071.9,28.8 1075.0,28.4 1081.9,41.2 1086.6,53.5 1093.0,73.4 1097.7,86.2 1102.1,99.0 1108.2,123.3 1113.2,136.9 1117.0,147.5 1123.5,169.7 1127.3,179.8 1132.5,192.6 1137.7,208.2 1141.5,218.2 1145.6,227.8 1151.9,241.3 1158.7,255.5 1163.2,264.4 1169.1,275.5 1175.6,286.9 1182.2,297.1 1185.8,302.3 1189.3,307.0 1193.3,312.1 1199.8,320.0 1203.5,324.3 1208.4,329.7 1215.2,337.0 1220.5,342.5 1226.3,348.4 1230.8,352.8 1236.7,358.4 1243.0,364.2 1246.5,367.2 1252.5,372.4 1259.4,378.1 1265.5,382.8 1269.9,386.2 1276.1,390.8 1279.8,393.5 1284.8,397.0 1291.4,401.5 1295.8,404.4 1300.2,407.1 1304.0,409.4 1307.5,411.3 1313.3,414.5 1317.4,416.6 1321.7,418.8 1326.8,421.3 1330.4,422.9 1335.8,425.4 1339.7,427.1 1345.2,429.5 1351.1,432.0 1354.8,433.6 1359.6,435.6 1365.5,437.9 1370.3,439.8 1373.9,441.1 1379.2,443.0 1384.9,445.2 1390.1,447.1 1396.9,449.6 1402.4,451.6 1409.0,454.0 1412.8,455.3 1416.7,456.7 1423.0,458.9 1427.8,460.6 1431.7,462.0 1438.4,464.3 1443.0,465.8 1449.1,467.7 1455.1,469.4 1461.6,471.2 1467.2,472.8 1473.3,474.8 1477.9,476.6 1482.2,478.8 1488.8,483.0 1493.7,486.2 1500.5,490.6 1506.3,494.2 1511.9,497.2 1515.7,498.9 1522.5,501.3 1527.4,502.8 1532.9,504.3 1537.7,505.5 1541.9,506.5 1548.5,508.0 1554.0,509.2 1557.3,509.8 1562.9,510.9 1567.4,511.7 1572.7,512.7 1579.2,513.8 1583.9,514.6 1590.5,515.7 1596.1,516.6 1599.5,517.1 1606.3,518.0 1612.1,518.8 1619.1,519.7 1623.0,520.1 1626.9,520.5" fill="none" stroke="none" marker-start="url(#m8)" marker-mid="url(#m8)" marker-end="url(#m8)"/>
<path d="M1056.19 146.64L1064.33 119.8M1099.07 130.2L1100.59 134.68M1109.01 162.26L1109.39 163.5" fill="none" stroke="#f00" stroke-width="2.2"/>
<polyline points="1042.2,175.3 1046.1,170.1 1049.9,163.1 1053.8,154.5 1066.7,112.0 1071.9,104.2 1075.7,100.4 1080.9,99.3 1086.9,105.0 1090.6,110.2 1096.4,122.5 1103.2,142.4 1106.6,154.4 1111.8,171.3 1118.1,186.8 1123.7,198.7 1129.6,211.3 1134.0,221.1 1140.7,236.3 1146.6,249.6 1151.9,261.1 1155.8,268.9 1160.5,277.8 1166.3,288.3 1171.3,296.8 1176.2,304.8 1181.8,313.5 1187.0,321.3 1192.7,329.5 1198.2,337.1 1204.5,345.0 1209.7,351.1 1216.3,358.2 1220.8,362.8 1224.5,366.4 1229.0,370.7 1232.7,374.4 1239.1,380.7 1242.6,384.2 1248.2,389.6 1253.5,394.2 1259.9,398.9 1263.9,401.7 1270.4,405.9 1275.0,408.7 1281.1,412.2 1285.5,414.7 1292.1,418.2 1296.6,420.6 1300.5,422.6 1305.3,425.1 1309.0,427.1 1315.3,430.4 1319.2,432.5 1324.0,435.1 1330.7,438.6 1337.6,442.1 1342.6,444.4 1349.0,447.1 1353.2,448.8 1358.8,450.6 1365.4,452.4 1370.7,453.7 1376.1,455.1 1379.6,456.2 1384.3,457.6 1387.9,458.8 1392.4,460.3 1396.9,461.8 1403.1,464.0 1406.6,465.2 1411.5,467.0 1416.0,468.6 1421.6,470.7 1426.2,472.3 1429.7,473.6 1436.3,475.9 1442.4,478.0 1448.9,480.3 1453.8,482.0 1459.3,483.9 1464.5,485.7 1470.0,487.6 1474.3,489.0 1478.8,490.4 1482.2,491.5 1486.7,492.8 1490.9,494.0 1496.3,495.5 1501.7,496.9 1506.7,498.3 1511.1,499.4 1514.7,500.3 1521.6,502.1 1526.2,503.2 1531.3,504.4 1538.2,505.9 1543.2,507.0 1547.7,508.0 1552.9,509.0 1558.4,510.1 1564.8,511.3 1568.4,511.9 1573.4,512.8 1579.6,513.8 1585.5,514.7 1591.0,515.5 1594.5,516.1 1599.1,516.7 1604.5,517.5 1609.0,518.1 1614.2,518.7 1619.9,519.4 1623.9,519.8 1627.4,520.2 1632.0,520.7" fill="none" stroke="none" marker-start="url(#m9)" marker-mid="url(#m9)" marker-end="url(#m9)"/>
<path d="M1096.48 122.51L1098.72 128.99M1107.76 155.84L1109.1 159.81" fill="none" stroke="#f00" stroke-width="2.2"/>
<polyline points="1045.3,131.9 1049.9,126.3 1055.1,119.8 1064.1,106.8 1069.3,101.4 1074.5,97.3 1079.4,95.6 1083.5,97.9 1088.6,105.1 1093.8,114.8 1101.4,136.7 1105.1,148.1 1111.7,167.6 1118.2,183.0 1122.1,191.7 1127.8,203.8 1131.2,211.3 1135.0,219.8 1139.5,230.0 1143.4,238.9 1149.5,252.4 1155.8,265.4 1160.4,274.1 1164.9,282.3 1168.7,288.9 1172.3,295.0 1178.2,304.6 1183.8,313.1 1187.3,318.4 1192.4,325.8 1197.2,332.4 1203.6,340.7 1209.6,347.8 1215.1,353.9 1220.4,359.5 1227.2,366.3 1234.1,373.2 1238.7,377.9 1242.9,382.1 1249.2,388.2 1252.8,391.4 1257.4,395.1 1261.0,397.8 1265.5,400.9 1269.1,403.3 1273.6,406.1 1279.8,409.9 1286.4,413.8 1292.6,417.2 1298.0,420.1 1303.6,423.1 1308.2,425.6 1312.2,427.8 1317.1,430.4 1323.1,433.7 1326.7,435.6 1330.1,437.4 1336.3,440.5 1340.7,442.6 1346.6,445.2 1352.6,447.6 1359.3,449.9 1364.1,451.2 1368.8,452.3 1375.0,453.9 1381.2,455.8 1386.9,457.6 1393.1,459.7 1398.8,461.6 1405.6,464.1 1410.2,465.7 1416.2,467.9 1423.0,470.4 1427.6,472.0 1433.1,474.0 1437.8,475.7 1442.8,477.5 1446.4,478.7 1449.9,479.9 1456.0,482.0 1461.0,483.7 1466.6,485.7 1472.6,487.7 1477.5,489.3 1482.1,490.8 1486.1,492.0 1492.3,493.8 1498.7,495.5 1504.7,497.1 1511.2,498.8 1516.9,500.3 1522.8,501.8 1526.8,502.7 1532.9,504.2 1537.5,505.2 1542.4,506.3 1546.9,507.3 1552.4,508.4 1558.1,509.5 1563.5,510.6 1568.0,511.4 1572.2,512.1 1578.6,513.1 1583.0,513.9 1588.0,514.6 1591.6,515.2 1596.1,515.9 1599.7,516.4 1604.3,517.0 1610.3,517.8 1617.1,518.7 1622.7,519.3 1627.1,519.8 1632.8,520.4" fill="none" stroke="none" marker-start="url(#m10)" marker-mid="url(#m10)" marker-end="url(#m10)"/>
<polyline points="1053.8,139.2 1059.3,132.2 1065.9,124.9 1072.5,117.8 1078.8,117.0 1082.2,119.0 1088.1,124.1 1092.8,132.2 1098.0,142.5 1103.8,155.2 1107.8,164.7 1112.2,174.6 1118.1,188.0 1124.3,202.0 1130.7,216.5 1136.9,230.3 1140.4,238.3 1144.1,246.9 1150.2,260.2 1154.4,268.9 1158.7,277.2 1165.2,289.0 1171.9,300.7 1177.3,309.4 1181.3,315.7 1187.5,324.8 1192.6,332.2 1198.2,339.9 1204.6,348.0 1209.6,353.8 1214.8,359.4 1220.6,365.3 1226.3,370.9 1230.6,375.1 1234.2,378.6 1240.4,384.7 1245.4,389.7 1250.0,393.9 1255.2,398.3 1259.5,401.4 1264.0,404.5 1269.6,408.1 1275.0,411.4 1279.5,414.1 1284.2,416.7 1288.5,419.1 1294.0,422.0 1297.9,424.0 1303.4,426.9 1309.8,430.2 1313.7,432.3 1319.7,435.6 1324.5,438.2 1330.7,441.4 1337.0,444.5 1343.1,447.4 1348.6,449.8 1354.4,452.0 1360.1,453.8 1365.0,455.1 1370.2,456.4 1375.3,457.7 1378.8,458.7 1384.7,460.5 1390.3,462.4 1396.5,464.4 1401.5,466.2 1406.2,467.9 1410.7,469.5 1416.0,471.4 1419.7,472.7 1425.3,474.8 1432.1,477.2 1438.7,479.5 1445.2,481.8 1449.8,483.3 1455.7,485.4 1460.9,487.2 1466.7,489.2 1471.0,490.7 1476.5,492.5 1480.1,493.6 1485.9,495.4 1490.4,496.7 1494.3,497.7 1498.9,499.0 1502.8,500.0 1509.5,501.8 1513.9,502.9 1517.6,503.8 1521.4,504.8 1527.5,506.2 1533.8,507.7 1537.3,508.5 1541.1,509.3 1547.7,510.7 1552.9,511.8 1559.6,513.1 1565.1,514.1 1571.2,515.2 1576.1,516.0 1582.4,517.0 1587.2,517.7 1591.8,518.4 1596.7,519.2 1601.5,519.8 1607.9,520.7 1612.6,521.3 1617.3,521.9 1622.1,522.4 1627.0,522.9 1632.8,523.5" fill="none" stroke="none" marker-start="url(#m11)" marker-mid="url(#m11)" marker-end="url(#m11)"/>
<polyline points="1053.8,137.1 1059.3,130.1 1065.9,122.8 1072.5,115.7 1078.8,114.9 1082.2,116.9 1088.1,122.0 1092.8,130.1 1098.0,140.4 1103.8,153.1 1107.8,162.6 1112.2,172.5 1118.1,186.0 1124.3,200.0 1130.7,214.4 1136.9,228.3 1140.4,236.2 1144.1,244.8 1150.2,258.1 1154.4,266.8 1158.7,275.1 1165.2,286.9 1171.9,298.6 1177.3,307.3 1181.3,313.6 1187.5,322.8 1192.6,330.1 1198.2,337.8 1204.6,345.9 1209.6,351.8 1214.8,357.3 1220.6,363.2 1226.3,368.8 1230.6,373.0 1234.2,376.5 1240.4,382.7 1245.4,387.7 1250.0,391.9 1255.2,396.2 1259.5,399.3 1264.0,402.4 1269.6,406.1 1275.0,409.3 1279.5,412.0 1284.2,414.7 1288.5,417.0 1294.0,419.9 1297.9,422.0 1303.4,424.8 1309.8,428.2 1313.7,430.3 1319.7,433.5 1324.5,436.1 1330.7,439.3 1337.0,442.4 1343.1,445.3 1348.6,447.7 1354.4,449.9 1360.1,451.7 1365.0,453.0 1370.2,454.3 1375.3,455.6 1378.8,456.6 1384.7,458.5 1390.3,460.3 1396.5,462.4 1401.5,464.1 1406.2,465.8 1410.7,467.4 1416.0,469.3 1419.7,470.7 1425.3,472.7 1432.1,475.1 1438.7,477.5 1445.2,479.7 1449.8,481.3 1455.7,483.3 1460.9,485.1 1466.7,487.1 1471.0,488.6 1476.5,490.4 1480.1,491.5 1485.9,493.3 1490.4,494.6 1494.3,495.7 1498.9,496.9 1502.8,497.9 1509.5,499.7 1513.9,500.8 1517.6,501.8 1521.4,502.7 1527.5,504.2 1533.8,505.6 1537.3,506.4 1541.1,507.3 1547.7,508.7 1552.9,509.7 1559.6,511.0 1565.1,512.0 1571.2,513.1 1576.1,513.9 1582.4,514.9 1587.2,515.7 1591.8,516.4 1596.7,517.1 1601.5,517.7 1607.9,518.6 1612.6,519.2 1617.3,519.8 1622.1,520.3 1627.0,520.9 1632.8,521.4" fill="none" stroke="none" marker-start="url(#m12)" marker-mid="url(#m12)" marker-end="url(#m12)"/>
<polyline points="1057.2,218.6 1063.1,224.1 1068.1,229.0 1074.1,235.0 1078.3,239.4 1085.4,247.2 1090.3,252.8 1097.6,261.5 1102.0,266.8 1107.7,273.4 1112.8,279.2 1116.8,283.7 1122.4,290.1 1127.9,296.2 1134.3,303.4 1141.4,311.2 1145.3,315.4 1149.5,320.0 1156.8,327.7 1161.2,332.4 1165.6,337.1 1171.6,343.4 1177.9,350.0 1184.0,356.3 1187.6,360.0 1194.6,366.8 1199.2,371.2 1204.8,376.3 1209.8,380.5 1213.4,383.6 1218.8,388.1 1225.5,393.4 1230.4,397.3 1235.9,401.4 1241.2,405.3 1246.2,408.7 1252.5,413.0 1257.3,416.0 1263.1,419.5 1267.8,422.3 1272.6,425.0 1277.1,427.5 1283.3,430.8 1287.6,433.0 1292.1,435.3 1297.1,437.7 1302.8,440.4 1309.8,443.6 1316.4,446.6 1320.5,448.4 1324.1,450.0 1330.6,452.8 1335.2,454.7 1340.0,456.7 1346.6,459.3 1353.2,461.9 1358.6,463.9 1365.3,466.3 1370.2,468.0 1373.9,469.3 1378.4,470.8 1383.7,472.5 1389.8,474.3 1394.6,475.7 1399.8,477.2 1406.5,479.1 1412.6,480.8 1417.3,482.0 1423.0,483.5 1429.0,485.1 1434.7,486.6 1438.8,487.7 1444.7,489.2 1450.1,490.7 1454.1,491.8 1457.8,492.7 1464.8,494.6 1469.3,495.8 1473.1,496.7 1478.1,498.0 1482.9,499.2 1490.2,500.8 1497.3,502.4 1503.0,503.6 1510.3,505.0 1517.6,506.4 1524.4,507.7 1528.5,508.4 1533.4,509.3 1538.1,510.1 1542.9,510.9 1547.6,511.7 1553.5,512.6 1557.2,513.2 1564.3,514.3 1567.9,514.8 1573.4,515.5 1577.2,516.0 1583.4,516.8 1587.3,517.3 1591.6,517.8 1598.6,518.7 1603.3,519.2 1608.0,519.8 1614.6,520.6 1619.7,521.3 1625.1,521.9 1629.2,522.4 1633.3,522.9" fill="none" stroke="none" marker-start="url(#m13)" marker-mid="url(#m13)" marker-end="url(#m13)"/>
<polyline points="1057.2,217.9 1061.8,222.1 1068.9,228.9 1075.4,235.3 1082.6,243.0 1086.9,247.8 1091.0,252.6 1098.0,260.9 1101.7,265.4 1105.5,269.9 1111.1,276.2 1115.0,280.6 1120.0,286.3 1126.0,293.1 1131.2,298.8 1134.9,302.9 1139.1,307.6 1144.3,313.3 1148.1,317.4 1152.7,322.4 1159.8,329.9 1164.4,334.8 1169.0,339.6 1174.0,344.9 1180.7,351.8 1186.1,357.4 1190.7,361.9 1195.5,366.6 1202.7,373.3 1206.9,377.1 1211.4,380.9 1217.5,386.0 1222.5,390.1 1227.8,394.4 1233.8,399.1 1237.7,401.9 1242.1,405.1 1247.6,409.0 1251.4,411.5 1255.2,414.0 1259.1,416.4 1263.8,419.3 1270.8,423.3 1277.5,427.0 1283.9,430.4 1289.2,433.1 1296.0,436.4 1300.5,438.6 1304.4,440.4 1308.5,442.3 1313.9,444.8 1318.5,446.9 1323.2,449.0 1326.8,450.5 1332.5,453.0 1338.7,455.6 1343.8,457.7 1347.9,459.4 1352.2,461.1 1358.6,463.5 1363.5,465.3 1368.5,467.1 1374.9,469.3 1381.7,471.5 1388.1,473.5 1393.1,475.0 1398.2,476.5 1403.8,478.0 1409.1,479.5 1415.9,481.3 1422.6,483.1 1426.4,484.1 1431.1,485.3 1436.2,486.6 1442.2,488.2 1448.2,489.8 1453.6,491.3 1458.5,492.6 1462.2,493.6 1465.8,494.5 1472.3,496.2 1476.5,497.3 1481.6,498.5 1488.2,500.1 1493.4,501.2 1499.0,502.4 1502.6,503.1 1507.7,504.2 1513.0,505.2 1517.8,506.1 1523.6,507.2 1528.0,508.0 1532.1,508.7 1537.1,509.6 1543.0,510.6 1547.9,511.4 1553.5,512.3 1560.0,513.3 1566.1,514.2 1573.0,515.1 1579.5,516.0 1584.4,516.6 1591.6,517.5 1598.6,518.3 1604.2,519.0 1609.9,519.7 1615.3,520.4 1620.0,520.9 1623.9,521.4 1628.5,522.0 1632.3,522.4" fill="none" stroke="none" marker-start="url(#m14)" marker-mid="url(#m14)" marker-end="url(#m14)"/>
<polyline points="1044.8,389.4 1055.6,390.0 1063.6,390.7 1077.6,392.2 1087.5,393.5 1098.7,395.6 1108.7,397.8 1120.5,400.4 1133.1,403.5 1147.0,407.1 1160.1,410.8 1175.6,415.4 1188.1,419.2 1202.2,424.1 1215.5,428.9 1223.3,431.8 1238.2,437.1 1249.4,441.0 1257.9,444.0 1272.3,449.1 1281.4,452.3 1290.4,455.3 1301.6,459.1 1314.6,463.2 1329.9,467.7 1344.2,471.6 1355.9,474.8 1368.6,478.1 1382.9,481.9 1394.1,484.7 1407.8,488.1 1420.6,491.2 1431.1,493.7 1438.7,495.5 1450.7,498.2 1460.8,500.5 1469.5,502.4 1481.5,504.9 1490.6,506.7 1501.4,508.7 1510.9,510.3 1518.7,511.6 1530.9,513.5 1545.9,515.6 1554.9,516.8 1568.2,518.3 1581.6,519.6 1589.4,520.2 1601.7,521.3 1614.9,522.6 1629.8,524.5" fill="none" stroke="none" marker-start="url(#m15)" marker-mid="url(#m15)" marker-end="url(#m15)"/>
<polyline points="1044.8,389.4 1056.5,390.1 1066.2,390.9 1082.1,392.7 1091.8,394.2 1102.2,396.3 1117.4,399.7 1128.5,402.3 1144.4,406.4 1162.7,411.5 1176.1,415.5 1188.6,419.4 1200.6,423.5 1211.7,427.5 1224.1,432.1 1238.1,437.0 1248.0,440.5 1264.2,446.3 1276.6,450.6 1293.2,456.3 1306.4,460.7 1321.7,465.3 1338.1,470.0 1351.5,473.6 1364.7,477.1 1376.2,480.1 1389.8,483.6 1402.7,486.9 1417.8,490.5 1428.0,493.0 1444.6,496.8 1454.6,499.1 1465.1,501.4 1477.5,504.1 1493.1,507.2 1512.3,510.6 1524.3,512.5 1539.3,514.7 1557.2,517.0 1574.3,518.9 1585.6,519.9 1598.3,521.0 1614.7,522.6 1627.4,524.2" fill="none" stroke="none" marker-start="url(#m16)" marker-mid="url(#m16)" marker-end="url(#m16)"/>
<polyline points="1055.1,472.2 1066.7,472.8 1076.1,473.3 1085.7,473.8 1096.5,474.4 1107.1,475.0 1122.7,475.9 1133.6,476.6 1147.4,477.6 1161.1,478.5 1171.2,479.3 1181.6,480.0 1192.0,480.8 1200.7,481.4 1216.1,482.5 1231.1,483.6 1243.2,484.6 1253.3,485.5 1268.0,487.2 1281.1,488.8 1291.8,490.1 1303.5,491.5 1315.3,492.8 1330.3,494.3 1342.5,495.4 1355.5,496.7 1363.5,497.5 1373.7,498.6 1381.7,499.6 1390.7,500.8 1405.8,503.0 1420.9,505.3 1434.3,507.2 1447.8,509.0 1459.1,510.4 1474.2,512.3 1485.1,513.5 1498.2,514.9 1511.0,516.2 1523.4,517.4 1532.8,518.2 1545.8,519.3 1560.5,520.5 1574.5,521.5 1585.6,522.3 1600.6,523.3 1614.5,524.5 1628.0,525.9" fill="none" stroke="none" marker-start="url(#m17)" marker-mid="url(#m17)" marker-end="url(#m17)"/>
<polyline points="1055.1,472.2 1072.2,473.1 1082.6,473.6 1096.1,474.3 1112.9,475.3 1125.8,476.1 1145.8,477.4 1157.4,478.3 1171.4,479.3 1187.6,480.5 1202.7,481.5 1214.4,482.3 1226.7,483.2 1243.4,484.6 1256.0,485.8 1270.3,487.4 1280.7,488.7 1294.0,490.4 1307.0,491.9 1321.7,493.4 1332.2,494.4 1350.1,496.1 1367.8,497.9 1383.7,499.8 1401.2,502.3 1417.3,504.7 1434.0,507.2 1452.4,509.6 1471.5,511.9 1485.2,513.5 1498.3,514.9 1514.7,516.6 1528.5,517.9 1547.6,519.5 1565.1,520.8 1579.5,521.9 1598.7,523.2 1608.8,524.0 1623.6,525.5 1635.3,526.8" fill="none" stroke="none" marker-start="url(#m18)" marker-mid="url(#m18)" marker-end="url(#m18)"/>
</g>
<rect x="1385" y="2" width="250.6" height="192.5" fill="#fff" stroke="none" stroke-width="0"/>
<clipPath id="cib"><rect x="1385" y="2" width="250.6" height="192.5"/></clipPath>
<g clip-path="url(#cib)">
<path d="M1447.82 68.63L1448.23 68.02M1454.35 58.33L1454.74 57.67M1459.74 47.4L1461.12 43.8M1480.46 49.73L1481.75 52.09M1487.42 62.05L1491.29 68.55" fill="none" stroke="#000" stroke-width="1.8"/>
<polyline points="1444.6,73.4 1451.4,63.2 1457.7,52.8 1463.2,38.5 1467.7,35.7 1471.0,35.2 1477.7,44.7 1484.5,57.1 1494.2,73.5 1498.8,80.1 1504.9,88.3 1510.0,94.9 1515.2,101.4 1521.7,108.5 1525.2,111.8 1528.8,114.8 1532.1,117.4 1538.3,122.2 1544.3,127.3 1550.6,133.5 1557.3,140.5 1563.4,146.5 1568.2,150.9 1574.2,155.5 1577.9,158.1 1583.4,161.7 1587.2,164.1 1593.7,168.0 1598.8,170.9 1603.5,173.5 1607.7,175.7 1613.7,178.9 1618.6,181.4 1623.8,184.0 1627.1,185.6 1632.6,188.1 1638.0,190.5" fill="none" stroke="none" marker-start="url(#m19)" marker-mid="url(#m19)" marker-end="url(#m19)"/>
<path d="M1457.49 21.94L1459.86 19.59M1495.79 56.15L1496.75 58.1M1510.59 80.5L1511.26 81.7" fill="none" stroke="#000" stroke-width="1.8"/>
<polyline points="1444.6,34.0 1448.7,30.2 1453.4,26.0 1463.9,15.6 1466.9,15.3 1473.7,21.8 1478.2,28.0 1484.5,38.1 1489.0,44.5 1493.3,51.0 1499.3,63.2 1504.0,70.1 1507.8,75.5 1514.1,86.7 1517.8,91.8 1522.8,98.3 1527.8,106.1 1531.6,111.2 1535.6,116.0 1541.6,122.9 1548.3,130.0 1552.6,134.5 1558.3,140.1 1564.7,145.9 1571.1,151.0 1574.6,153.7 1578.0,156.0 1581.9,158.6 1588.2,162.6 1591.8,164.8 1596.5,167.5 1603.2,171.2 1608.3,173.9 1614.0,176.9 1618.3,179.2 1624.0,182.0 1630.2,184.9 1633.5,186.4 1639.4,189.1" fill="none" stroke="none" marker-start="url(#m20)" marker-mid="url(#m20)" marker-end="url(#m20)"/>
<path d="M1449.49 73.7L1455.83 62.84" fill="none" stroke="#f00" stroke-width="1.8"/>
<polyline points="1435.1,89.5 1438.9,86.9 1442.6,83.4 1446.4,79.0 1458.9,57.5 1463.9,53.6 1467.7,51.7 1472.7,51.2 1478.6,54.0 1482.1,56.7 1487.8,62.8 1494.4,72.9 1497.7,79.0 1502.7,87.5 1508.8,95.3 1514.2,101.3 1520.0,107.7 1524.3,112.6 1530.8,120.3 1536.6,127.1 1541.7,132.8 1545.5,136.8 1550.0,141.3 1555.7,146.6 1560.5,150.9 1565.2,154.9 1570.7,159.3 1575.7,163.3 1581.3,167.4 1586.6,171.2 1592.7,175.2 1597.8,178.3 1604.3,181.9 1608.6,184.2 1612.2,186.0 1616.5,188.2 1620.2,190.0 1626.3,193.2 1629.8,195.0 1635.2,197.7 1640.4,200.1" fill="none" stroke="none" marker-start="url(#m21)" marker-mid="url(#m21)" marker-end="url(#m21)"/>
<path d="M1488.64 64.06L1489.21 64.92" fill="none" stroke="#f00" stroke-width="1.8"/>
<polyline points="1438.1,67.6 1442.6,64.8 1447.7,61.5 1456.4,54.9 1461.4,52.2 1466.4,50.1 1471.2,49.3 1475.2,50.4 1480.2,54.1 1485.2,58.9 1492.6,70.0 1496.3,75.8 1502.6,85.6 1508.9,93.4 1512.7,97.8 1518.2,103.9 1521.6,107.7 1525.2,112.0 1529.6,117.1 1533.4,121.6 1539.3,128.5 1545.5,135.0 1549.9,139.4 1554.3,143.6 1557.9,146.9 1561.5,150.0 1567.3,154.8 1572.6,159.1 1576.1,161.8 1581.0,165.5 1585.7,168.9 1591.9,173.1 1597.7,176.6 1603.1,179.7 1608.3,182.5 1614.8,186.0 1621.6,189.4 1626.0,191.8 1630.1,194.0 1636.2,197.0 1639.6,198.6" fill="none" stroke="none" marker-start="url(#m22)" marker-mid="url(#m22)" marker-end="url(#m22)"/>
<polyline points="1446.4,71.3 1451.7,67.7 1458.1,64.1 1464.5,60.5 1470.6,60.1 1474.0,61.1 1479.7,63.7 1484.3,67.8 1489.4,73.0 1494.9,79.3 1498.9,84.1 1503.1,89.2 1508.9,95.9 1514.9,103.0 1521.1,110.3 1527.1,117.3 1530.5,121.3 1534.1,125.7 1540.0,132.4 1544.1,136.8 1548.3,141.0 1554.5,146.9 1561.1,152.8 1566.4,157.3 1570.2,160.4 1576.2,165.0 1581.2,168.8 1586.7,172.6 1592.9,176.7 1597.7,179.7 1602.8,182.5 1608.4,185.5 1613.9,188.3 1618.1,190.4 1621.6,192.2 1627.6,195.3 1632.5,197.8 1636.9,199.9" fill="none" stroke="none" marker-start="url(#m23)" marker-mid="url(#m23)" marker-end="url(#m23)"/>
<polyline points="1446.4,70.2 1451.7,66.7 1458.1,63.0 1464.5,59.4 1470.6,59.0 1474.0,60.0 1479.7,62.6 1484.3,66.7 1489.4,71.9 1494.9,78.3 1498.9,83.1 1503.1,88.1 1508.9,94.9 1514.9,102.0 1521.1,109.3 1527.1,116.3 1530.5,120.3 1534.1,124.6 1540.0,131.3 1544.1,135.7 1548.3,139.9 1554.5,145.9 1561.1,151.8 1566.4,156.2 1570.2,159.3 1576.2,164.0 1581.2,167.7 1586.7,171.6 1592.9,175.7 1597.7,178.6 1602.8,181.4 1608.4,184.4 1613.9,187.2 1618.1,189.4 1621.6,191.1 1627.6,194.2 1632.5,196.8 1636.9,198.9" fill="none" stroke="none" marker-start="url(#m24)" marker-mid="url(#m24)" marker-end="url(#m24)"/>
<polyline points="1449.7,111.4 1455.4,114.2 1460.3,116.6 1466.1,119.7 1470.2,121.9 1477.1,125.8 1481.8,128.7 1488.9,133.0 1493.2,135.7 1498.8,139.1 1503.7,142.0 1507.6,144.3 1513.0,147.5 1518.4,150.6 1524.6,154.2 1531.5,158.1 1535.2,160.2 1539.4,162.6 1546.4,166.5 1550.7,168.9 1555.0,171.2 1560.8,174.4 1566.9,177.7 1572.9,180.9 1576.4,182.8 1583.1,186.2 1587.6,188.4 1593.1,191.0 1597.9,193.2 1601.4,194.7 1606.6,197.0 1613.1,199.7 1617.9,201.6 1623.2,203.7 1628.4,205.6 1633.2,207.4 1639.4,209.5" fill="none" stroke="none" marker-start="url(#m25)" marker-mid="url(#m25)" marker-end="url(#m25)"/>
<polyline points="1449.7,111.0 1454.1,113.1 1461.1,116.6 1467.3,119.8 1474.4,123.7 1478.6,126.1 1482.5,128.5 1489.3,132.8 1492.9,135.0 1496.6,137.3 1502.1,140.5 1505.8,142.7 1510.6,145.5 1516.5,149.0 1521.5,151.9 1525.1,154.0 1529.3,156.3 1534.3,159.2 1538.0,161.3 1542.5,163.8 1549.4,167.6 1553.8,170.0 1558.3,172.5 1563.2,175.2 1569.6,178.7 1574.9,181.5 1579.3,183.8 1584.0,186.1 1591.0,189.5 1595.1,191.4 1599.4,193.3 1605.4,195.9 1610.2,198.0 1615.4,200.1 1621.3,202.5 1625.0,204.0 1629.3,205.6 1634.6,207.5 1638.3,208.8" fill="none" stroke="none" marker-start="url(#m26)" marker-mid="url(#m26)" marker-end="url(#m26)"/>
</g>
<line x1="1385" y1="2" x2="1385" y2="194.5" stroke="#000" stroke-width="2.6" />
<line x1="1383.7" y1="194.5" x2="1635.6" y2="194.5" stroke="#000" stroke-width="2.6" />
<line x1="1385" y1="194.5" x2="1385" y2="186" stroke="#000" stroke-width="2.6" />
<line x1="1410.06" y1="194.5" x2="1410.06" y2="190" stroke="#000" stroke-width="2.6" />
<line x1="1435.12" y1="194.5" x2="1435.12" y2="186" stroke="#000" stroke-width="2.6" />
<line x1="1460.18" y1="194.5" x2="1460.18" y2="190" stroke="#000" stroke-width="2.6" />
<line x1="1485.24" y1="194.5" x2="1485.24" y2="186" stroke="#000" stroke-width="2.6" />
<line x1="1510.3" y1="194.5" x2="1510.3" y2="190" stroke="#000" stroke-width="2.6" />
<line x1="1535.36" y1="194.5" x2="1535.36" y2="186" stroke="#000" stroke-width="2.6" />
<line x1="1560.42" y1="194.5" x2="1560.42" y2="190" stroke="#000" stroke-width="2.6" />
<line x1="1585.48" y1="194.5" x2="1585.48" y2="186" stroke="#000" stroke-width="2.6" />
<line x1="1610.54" y1="194.5" x2="1610.54" y2="190" stroke="#000" stroke-width="2.6" />
<text transform="translate(1385 219.5) scale(1 1.035)" font-size="21.5" text-anchor="middle" >0</text>
<text transform="translate(1435.12 219.5) scale(1 1.035)" font-size="21.5" text-anchor="middle" >2</text>
<text transform="translate(1485.24 219.5) scale(1 1.035)" font-size="21.5" text-anchor="middle" >4</text>
<text transform="translate(1535.36 219.5) scale(1 1.035)" font-size="21.5" text-anchor="middle" >6</text>
<text transform="translate(1585.48 219.5) scale(1 1.035)" font-size="21.5" text-anchor="middle" >8</text>
<line x1="1385" y1="194.5" x2="1393.5" y2="194.5" stroke="#000" stroke-width="2.6" />
<line x1="1385" y1="168.25" x2="1389.5" y2="168.25" stroke="#000" stroke-width="2.6" />
<line x1="1385" y1="142" x2="1393.5" y2="142" stroke="#000" stroke-width="2.6" />
<line x1="1385" y1="115.75" x2="1389.5" y2="115.75" stroke="#000" stroke-width="2.6" />
<line x1="1385" y1="89.5" x2="1393.5" y2="89.5" stroke="#000" stroke-width="2.6" />
<line x1="1385" y1="63.25" x2="1389.5" y2="63.25" stroke="#000" stroke-width="2.6" />
<line x1="1385" y1="37" x2="1393.5" y2="37" stroke="#000" stroke-width="2.6" />
<line x1="1385" y1="10.75" x2="1389.5" y2="10.75" stroke="#000" stroke-width="2.6" />
<text transform="translate(1375.5 200.7) scale(1 1.035)" font-size="21.5" text-anchor="end" >0.6</text>
<text transform="translate(1375.5 148.2) scale(1 1.035)" font-size="21.5" text-anchor="end" >0.9</text>
<text transform="translate(1375.5 95.7) scale(1 1.035)" font-size="21.5" text-anchor="end" >1.2</text>
<text transform="translate(1375.5 43.2) scale(1 1.035)" font-size="21.5" text-anchor="end" >1.5</text>
<text transform="translate(1508 240) scale(1 1.035)" font-size="21.5" text-anchor="middle" >T (K)</text>
<text transform="translate(1334.5 104) rotate(-90) scale(1 1.035)" font-size="22" text-anchor="middle" >M/H (emu/mole-Oe)</text>
<rect x="990.6" y="2" width="645" height="519.8" fill="none" stroke="#000" stroke-width="3.6"/>
<line x1="990.6" y1="521.8" x2="990.6" y2="531.6" stroke="#000" stroke-width="3.6" />
<line x1="1055.1" y1="521.8" x2="1055.1" y2="526.8" stroke="#000" stroke-width="3.6" />
<line x1="1119.6" y1="521.8" x2="1119.6" y2="531.6" stroke="#000" stroke-width="3.6" />
<line x1="1184.1" y1="521.8" x2="1184.1" y2="526.8" stroke="#000" stroke-width="3.6" />
<line x1="1248.6" y1="521.8" x2="1248.6" y2="531.6" stroke="#000" stroke-width="3.6" />
<line x1="1313.1" y1="521.8" x2="1313.1" y2="526.8" stroke="#000" stroke-width="3.6" />
<line x1="1377.6" y1="521.8" x2="1377.6" y2="531.6" stroke="#000" stroke-width="3.6" />
<line x1="1442.1" y1="521.8" x2="1442.1" y2="526.8" stroke="#000" stroke-width="3.6" />
<line x1="1506.6" y1="521.8" x2="1506.6" y2="531.6" stroke="#000" stroke-width="3.6" />
<line x1="1571.1" y1="521.8" x2="1571.1" y2="526.8" stroke="#000" stroke-width="3.6" />
<line x1="1635.6" y1="521.8" x2="1635.6" y2="531.6" stroke="#000" stroke-width="3.6" />
<text transform="translate(990.6 564.1) scale(1 1.035)" font-size="33.6" text-anchor="middle" >0</text>
<text transform="translate(1119.6 564.1) scale(1 1.035)" font-size="33.6" text-anchor="middle" >5</text>
<text transform="translate(1248.6 564.1) scale(1 1.035)" font-size="33.6" text-anchor="middle" >10</text>
<text transform="translate(1377.6 564.1) scale(1 1.035)" font-size="33.6" text-anchor="middle" >15</text>
<text transform="translate(1506.6 564.1) scale(1 1.035)" font-size="33.6" text-anchor="middle" >20</text>
<text transform="translate(1635.6 564.1) scale(1 1.035)" font-size="33.6" text-anchor="middle" >25</text>
<line x1="990.6" y1="504.47" x2="985.6" y2="504.47" stroke="#000" stroke-width="3.6" />
<line x1="990.6" y1="417.84" x2="980.8" y2="417.84" stroke="#000" stroke-width="3.6" />
<line x1="990.6" y1="331.21" x2="985.6" y2="331.21" stroke="#000" stroke-width="3.6" />
<line x1="990.6" y1="244.57" x2="980.8" y2="244.57" stroke="#000" stroke-width="3.6" />
<line x1="990.6" y1="157.94" x2="985.6" y2="157.94" stroke="#000" stroke-width="3.6" />
<line x1="990.6" y1="71.31" x2="980.8" y2="71.31" stroke="#000" stroke-width="3.6" />
<text transform="translate(974.3 428.04) scale(1 1.035)" font-size="33.6" text-anchor="end" >0.5</text>
<text transform="translate(974.3 254.77) scale(1 1.035)" font-size="33.6" text-anchor="end" >1.0</text>
<text transform="translate(974.3 81.51) scale(1 1.035)" font-size="33.6" text-anchor="end" >1.5</text>
<text transform="translate(1336.4 607.6) scale(1 1.035)" font-size="33.8" text-anchor="middle" >T (K)</text>
<text transform="translate(910.7 271.3) rotate(-90) scale(1 1.035)" font-size="34.6" text-anchor="middle" >M/H (emu/mole-Oe)</text>
<text transform="translate(1215.6 108.1) scale(1 1.035)" font-size="35" text-anchor="middle" >(b)</text>
<text transform="translate(1399.3 275.5) scale(1 1.035)" font-size="19.9" text-anchor="start" >ZFC</text>
<text transform="translate(1551.2 275.5) scale(1 1.035)" font-size="19.9" text-anchor="start" >FC</text>
<line x1="1349.1" y1="294.2" x2="1363.6" y2="294.2" stroke="#000" stroke-width="2.9" />
<line x1="1380.2" y1="294.2" x2="1394.8" y2="294.2" stroke="#000" stroke-width="2.9" />
<rect x="1367.85" y="290.25" width="7.9" height="7.9" fill="#fff" stroke="#000" stroke-width="1.9"/>
<text transform="translate(1400 300.8) scale(1 1.035)" font-size="20.2" text-anchor="start" >0.1 kOe</text>
<line x1="1513" y1="294.2" x2="1527.5" y2="294.2" stroke="#000" stroke-width="2.9" />
<line x1="1544.1" y1="294.2" x2="1558.7" y2="294.2" stroke="#000" stroke-width="2.9" />
<rect x="1531.75" y="290.25" width="7.9" height="7.9" fill="#000" stroke="#000" stroke-width="1.9"/>
<text transform="translate(1563.9 300.8) scale(1 1.035)" font-size="20.2" text-anchor="start" >0.1 kOe</text>
<line x1="1349.1" y1="319.3" x2="1363.6" y2="319.3" stroke="#f00" stroke-width="2.9" />
<line x1="1380.2" y1="319.3" x2="1394.8" y2="319.3" stroke="#f00" stroke-width="2.9" />
<circle cx="1371.8" cy="319.3" r="4.85" fill="#fff" stroke="#f00" stroke-width="1.9"/>
<text transform="translate(1400 325.9) scale(1 1.035)" font-size="20.2" text-anchor="start" >0.5 kOe</text>
<line x1="1513" y1="319.3" x2="1527.5" y2="319.3" stroke="#f00" stroke-width="2.9" />
<line x1="1544.1" y1="319.3" x2="1558.7" y2="319.3" stroke="#f00" stroke-width="2.9" />
<circle cx="1535.7" cy="319.3" r="4.85" fill="#f00" stroke="#f00" stroke-width="1.9"/>
<text transform="translate(1563.9 325.9) scale(1 1.035)" font-size="20.2" text-anchor="start" >0.5 kOe</text>
<line x1="1349.1" y1="344.4" x2="1363.6" y2="344.4" stroke="#00f" stroke-width="2.9" />
<line x1="1380.2" y1="344.4" x2="1394.8" y2="344.4" stroke="#00f" stroke-width="2.9" />
<polygon points="1367.34,338.52 1377.31,344.4 1367.34,350.28" fill="#fff" stroke="#00f" stroke-width="1.9" stroke-linejoin="miter"/>
<text transform="translate(1400 351) scale(1 1.035)" font-size="20.2" text-anchor="start" >1 kOe</text>
<line x1="1513" y1="344.4" x2="1527.5" y2="344.4" stroke="#00f" stroke-width="2.9" />
<line x1="1544.1" y1="344.4" x2="1558.7" y2="344.4" stroke="#00f" stroke-width="2.9" />
<polygon points="1531.24,338.52 1541.21,344.4 1531.24,350.28" fill="#00f" stroke="#00f" stroke-width="1.9" stroke-linejoin="miter"/>
<text transform="translate(1563.9 351) scale(1 1.035)" font-size="20.2" text-anchor="start" >1 kOe</text>
<line x1="1349.1" y1="369.5" x2="1363.6" y2="369.5" stroke="#008000" stroke-width="2.9" />
<line x1="1380.2" y1="369.5" x2="1394.8" y2="369.5" stroke="#008000" stroke-width="2.9" />
<polygon points="1371.8,364.25 1377.04,368.06 1375.04,374.22 1368.56,374.22 1366.56,368.06" fill="#fff" stroke="#008000" stroke-width="1.9" stroke-linejoin="miter"/>
<text transform="translate(1400 376.1) scale(1 1.035)" font-size="20.2" text-anchor="start" >10 kOe</text>
<line x1="1513" y1="369.5" x2="1527.5" y2="369.5" stroke="#008000" stroke-width="2.9" />
<line x1="1544.1" y1="369.5" x2="1558.7" y2="369.5" stroke="#008000" stroke-width="2.9" />
<polygon points="1535.7,364.25 1540.94,368.06 1538.94,374.22 1532.46,374.22 1530.46,368.06" fill="#008000" stroke="#008000" stroke-width="1.9" stroke-linejoin="miter"/>
<text transform="translate(1563.9 376.1) scale(1 1.035)" font-size="20.2" text-anchor="start" >10 kOe</text>
<line x1="1349.1" y1="394.6" x2="1363.6" y2="394.6" stroke="#ff8000" stroke-width="2.9" />
<line x1="1380.2" y1="394.6" x2="1394.8" y2="394.6" stroke="#ff8000" stroke-width="2.9" />
<polygon points="1376.63,397.39 1371.8,400.18 1366.97,397.39 1366.97,391.81 1371.8,389.02 1376.63,391.81" fill="#fff" stroke="#ff8000" stroke-width="1.9" stroke-linejoin="miter"/>
<text transform="translate(1400 401.2) scale(1 1.035)" font-size="20.2" text-anchor="start" >30 kOe</text>
<line x1="1513" y1="394.6" x2="1527.5" y2="394.6" stroke="#ff8000" stroke-width="2.9" />
<line x1="1544.1" y1="394.6" x2="1558.7" y2="394.6" stroke="#ff8000" stroke-width="2.9" />
<polygon points="1540.53,397.39 1535.7,400.18 1530.87,397.39 1530.87,391.81 1535.7,389.02 1540.53,391.81" fill="#ff8000" stroke="#ff8000" stroke-width="1.9" stroke-linejoin="miter"/>
<text transform="translate(1563.9 401.2) scale(1 1.035)" font-size="20.2" text-anchor="start" >30 kOe</text>
<line x1="1349.1" y1="419.7" x2="1363.6" y2="419.7" stroke="#8000ff" stroke-width="2.9" />
<line x1="1380.2" y1="419.7" x2="1394.8" y2="419.7" stroke="#8000ff" stroke-width="2.9" />
<polygon points="1371.8,413.9 1377.6,419.7 1371.8,425.5 1366,419.7" fill="#fff" stroke="#8000ff" stroke-width="1.9" stroke-linejoin="miter"/>
<text transform="translate(1400 426.3) scale(1 1.035)" font-size="20.2" text-anchor="start" >70 kOe</text>
<line x1="1513" y1="419.7" x2="1527.5" y2="419.7" stroke="#8000ff" stroke-width="2.9" />
<line x1="1544.1" y1="419.7" x2="1558.7" y2="419.7" stroke="#8000ff" stroke-width="2.9" />
<polygon points="1535.7,413.9 1541.5,419.7 1535.7,425.5 1529.9,419.7" fill="#8000ff" stroke="#8000ff" stroke-width="1.9" stroke-linejoin="miter"/>
<text transform="translate(1563.9 426.3) scale(1 1.035)" font-size="20.2" text-anchor="start" >70 kOe</text>
</svg>
</body></html>
